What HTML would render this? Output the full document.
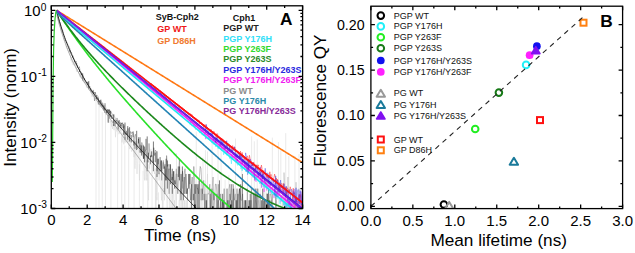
<!DOCTYPE html><html><head><meta charset="utf-8"><style>html,body{margin:0;padding:0;background:#fff;}svg{display:block}text{font-family:"Liberation Sans",sans-serif}</style></head><body>
<svg width="635" height="253" viewBox="0 0 635 253">
<defs><clipPath id="ca"><rect x="51.3" y="5.8" width="251.3" height="202.7"/></clipPath>
<clipPath id="cb"><rect x="370.9" y="6.2" width="251.7" height="202.4"/></clipPath></defs>
<g clip-path="url(#ca)" fill="none" stroke-linejoin="round">
<path d="M57 16.11 L57.5 17.27 L58 18.69 L58.5 21.83 L59 24.4 L59.5 24.95 L60 26.14 L60.5 27.2 L61 31.25 L61.5 33.01 L62 32.43 L62.5 34.24 L63 34.59 L63.5 36.69 L64 39.47 L64.5 41.15 L65 39.1 L65.5 44.04 L66 46.13 L66.5 48.03 L67 47.59 L67.5 48.83 L68 50.83 L68.5 51.67 L69 52.38 L69.5 52.93 L70 53.47 L70.5 56.01 L71 60.68 L71.5 57.43 L72 62.32 L72.5 61.1 L73 64.66 L73.5 62.89 L74 65.42 L74.5 64.51 L75 60.09 L75.5 66.98 L76 66.18 L76.5 71.63 L77 70.32 L77.5 69.25 L78 71.73 L78.5 71.62 L79 73.07 L79.5 76.53 L80 73.76 L80.5 77.82 L81 72.6 L81.5 78.77 L82 76.74 L82.5 79.16 L83 77.69 L83.5 82.33 L84 79.1 L84.5 82.66 L85 79.96 L85.5 82.26 L86 84.27 L86.5 87.63 L87 84.1 L87.5 85.62 L88 83.32 L88.5 89.51 L89 87.55 L89.5 88.4 L90 89.76 L90.5 90.69 L91 91.49 L91.5 94.69 L92 96.87 L92.5 95.49 L93 93.05 L93.5 91.04 L94 93.25 L94.5 93.69 L95 95.2 L95.5 96.12 L96 98.49 L96.5 97.22 L97 94.79 L97.5 102.41 L98 104.55 L98.5 96.12 L99 104.64 L99.5 100.81 L100 107.33 L100.5 100.37 L101 101.72 L101.5 106.77 L102 104.64 L102.5 105.16 L103 106.77 L103.5 110.92 L104 106.22 L104.5 105.69 L105 112.22 L105.5 113.59 L106 115.02 L106.5 113.59 L107 109.67 L107.5 110.29 L108 121.61 L108.5 115.02 L109 116.53 L109.5 114.3 L110 122.55 L110.5 121.61 L111 120.7 L111.5 126.66 L112 119.82 L112.5 128.95 L113 121.61 L113.5 122.55 L114 130.17 L114.5 118.96 L115 126.66 L115.5 137.21 L116 127.78 L116.5 128.95 L117 131.45 L117.5 124.53 L118 120.7 L118.5 119.82 L119 134.19 L119.5 131.45 L120 122.55 L120.5 131.45 L121 127.78 L121.5 134.19 L122 142.44 L122.5 138.85 L123 132.79 L123.5 142.44 L124 144.42 L124.5 137.21 L125 142.44 L125.5 137.21 L126 142.44 L126.5 137.21 L127 132.79 L127.5 142.44 L128 135.66 L128.5 142.44 L129 137.21 L129.5 148.84 L130 148.84 L130.5 146.55 L131 138.85 L131.5 151.34 L132 151.34 L132.5 148.84 L133 148.84 L133.5 140.59 L134 157.1 L134.5 140.59 L135 168.73 L135.5 154.07 L136 148.84 L136.5 160.48 L137 173.96 L137.5 164.31 L138 148.84 L138.5 148.84 L139 154.07 L139.5 180.37 L140 160.48 L140.5 144.42 L141 144.42 L141.5 154.07 L142 154.07 L142.5 148.84 L143 157.1 L143.5 144.42 L144 168.73 L144.5 180.37 L145 157.1 L145.5 148.84 L146 180.37 L146.5 160.48 L147 180.37 L147.5 160.48 L148 180.37 L148.5 200.26 L149 164.31 L149.5 168.73 L150 160.48 L150.5 160.48 L151 148.84 L151.5 164.31 L152 173.96 L152.5 168.73 L153 160.48 L153.5 164.31 L154 164.31 L154.5 173.96 L155 168.73 L155.5 168.73 L156 216 L156.5 173.96 L157 200.26 L157.5 173.96 L158 164.31 L158.5 164.31 L159 180.37 L159.5 173.96 L160 173.96 L160.5 188.62 L161 188.62 L161.5 200.26 L162 180.37 L162.5 216 L163 188.62 L163.5 188.62 L164 188.62 L164.5 200.26 L165 188.62 L165.5 168.73 L166 180.37 L166.5 168.73 L167 216 L167.5 216 L168 188.62 L168.5 168.73 L169 173.96 L169.5 180.37 L170 188.62 L170.5 216 L171 216 L171.5 216 L172 173.96 L172.5 216 L173 188.62 L173.5 188.62 L174 216 L174.5 200.26 L175 216 L175.5 180.37 L176 188.62 L176.5 216 L177 216 L177.5 216 L178 216 L178.5 216 L179 200.26 L179.5 200.26 L180 200.26 L180.5 188.62 L181 216 L181.5 200.26 L182 188.62 L182.5 216 L183 180.37 L183.5 188.62 L184 216 L184.5 200.26 L185 216 L185.5 216 L186 200.26 L186.5 216 L187 200.26 L187.5 200.26 L188 216 L188.5 216 L189 216 L189.5 216 L190 216 L190.5 188.62 L191 200.26 L191.5 216 L192 216 L192.5 216 L193 216 L193.5 200.26 L194 216 L194.5 188.62 L195 216 L195.5 216 L196 216 L196.5 216 L197 216 L197.5 216 L198 216 L198.5 216 L199 216 L199.5 216 L200 216 L200.5 216 L201 216 L201.5 200.26 L202 200.26 L202.5 216 L203 216 L203.5 216 L204 216 L204.5 216 L205 180.37 L205.5 216 L206 216 L206.5 188.62 L207 188.62 L207.5 173.96 L208 216 L208.5 216 L209 216 L209.5 216 L210 216 L210.5 216 L211 188.62 L211.5 216 L212 216 L212.5 216 L213 216 L213.5 216 L214 216 L214.5 216 L215 216 L215.5 216 L216 200.26 L216.5 216 L217 216 L217.5 200.26 L218 216 L218.5 216 L219 216 L219.5 216 L220 216 L220.5 200.26 L221 216 L221.5 216 L222 216 L222.5 216 L223 216 L223.5 200.26 L224 216 L224.5 216 L225 216 L225.5 216 L226 216 L226.5 216 L227 216 L227.5 216 L228 216 L228.5 216 L229 216 L229.5 216 L230 200.26 L230.5 216 L231 200.26 L231.5 216 L232 188.62 L232.5 200.26 L233 216 L233.5 216 L234 216 L234.5 216 L235 216 L235.5 216 L236 200.26 L236.5 216 L237 216 L237.5 216 L238 216 L238.5 216 L239 216 L239.5 216 L240 216 L240.5 216 L241 216 L241.5 216 L242 216 L242.5 216 L243 216 L243.5 216 L244 216 L244.5 216 L245 216 L245.5 216 L246 216 L246.5 200.26 L247 216 L247.5 216 L248 216 L248.5 216 L249 216 L249.5 216 L250 216 L250.5 216 L251 200.26 L251.5 216 L252 216 L252.5 216 L253 216 L253.5 216 L254 188.62 L254.5 188.62 L255 216 L255.5 200.26 L256 216 L256.5 216 L257 216 L257.5 200.26 L258 216 L258.5 200.26 L259 216 L259.5 216 L260 216 L260.5 216 L261 216 L261.5 216 L262 216 L262.5 200.26 L263 216 L263.5 216 L264 188.62 L264.5 216 L265 216 L265.5 216 L266 216 L266.5 216 L267 200.26 L267.5 216 L268 216 L268.5 216 L269 216 L269.5 200.26 L270 216 L270.5 216 L271 216 L271.5 200.26 L272 216 L272.5 216 L273 216 L273.5 216 L274 216 L274.5 216 L275 216 L275.5 216 L276 216 L276.5 200.26 L277 216 L277.5 216 L278 216 L278.5 216 L279 216 L279.5 216 L280 216 L280.5 216 L281 216 L281.5 216 L282 216 L282.5 200.26 L283 216 L283.5 216 L284 216 L284.5 216 L285 216 L285.5 216 L286 188.62 L286.5 216 L287 216 L287.5 200.26 L288 216 L288.5 216 L289 216 L289.5 200.26 L290 216 L290.5 216 L291 216 L291.5 216 L292 216 L292.5 216 L293 216 L293.5 216 L294 200.26 L294.5 216 L295 216 L295.5 216 L296 216 L296.5 216 L297 216 L297.5 216 L298 216 L298.5 216 L299 216 L299.5 216 L300 216 L300.5 216 L301 200.26 L301.5 216 L302 200.26 L302.5 188.62 L303 216" stroke="#cfcfcf" stroke-width="0.4"/>
<path d="M57 13.04 L57.8 15.18 L58.6 18.42 L59.4 21.39 L60.2 23.18 L61 26.39 L61.8 29.17 L62.6 30.08 L63.4 34.17 L64.2 37.12 L65 39.48 L65.8 40.89 L66.6 41.91 L67.4 43.74 L68.2 45.41 L69 46.61 L69.8 48.55 L70.6 51.42 L71.4 52.45 L72.2 54.9 L73 58.04 L73.8 58.04 L74.6 60.6 L75.4 62.56 L76.2 61.32 L77 64.39 L77.8 67.66 L78.6 68.58 L79.4 66.66 L80.2 71.79 L81 71.71 L81.8 73.27 L82.6 74.81 L83.4 76.03 L84.2 79.21 L85 80.52 L85.8 81.29 L86.6 82.96 L87.4 82.07 L88.2 81.97 L89 87.87 L89.8 86.19 L90.6 90.58 L91.4 91.17 L92.2 91.36 L93 91.76 L93.8 94.14 L94.6 100.97 L95.4 92.33 L96.2 97.15 L97 99.17 L97.8 97.03 L98.6 101.28 L99.4 104.71 L100.2 100.58 L101 101.78 L101.8 106.22 L102.6 102.69 L103.4 104.88 L104.2 110.34 L105 103.22 L105.8 108.09 L106.6 113.46 L107.4 109.45 L108.2 111.36 L109 109.78 L109.8 118.32 L110.6 111.35 L111.4 112.52 L112.2 114.15 L113 115.29 L113.8 113.98 L114.6 116.68 L115.4 119.55 L116.2 124.1 L117 117.93 L117.8 122.08 L118.6 123.03 L119.4 120.25 L120.2 127.21 L121 122.55 L121.8 124.02 L122.6 122.55 L123.4 128.36 L124.2 125.57 L125 134.19 L125.8 133.48 L126.6 134.91 L127.4 135.66 L128.2 128.36 L129 137.21 L129.8 138.02 L130.6 131.45 L131.4 133.48 L132.2 132.11 L133 132.79 L133.8 145.46 L134.6 136.42 L135.4 134.19 L136.2 142.44 L137 147.67 L137.8 148.84 L138.6 137.21 L139.4 146.55 L140.2 145.46 L141 152.67 L141.8 142.44 L142.6 146.55 L143.4 158.74 L144.2 155.55 L145 151.34 L145.8 150.06 L146.6 155.55 L147.4 158.74 L148.2 162.33 L149 143.41 L149.8 154.07 L150.6 157.1 L151.4 155.55 L152.2 155.55 L153 162.33 L153.8 147.67 L154.6 155.55 L155.4 150.06 L156.2 151.34 L157 171.23 L157.8 158.74 L158.6 173.96 L159.4 173.96 L160.2 166.44 L161 160.48 L161.8 180.37 L162.6 164.31 L163.4 160.48 L164.2 168.73 L165 164.31 L165.8 180.37 L166.6 155.55 L167.4 166.44 L168.2 164.31 L169 180.37 L169.8 164.31 L170.6 168.73 L171.4 180.37 L172.2 176.99 L173 180.37 L173.8 171.23 L174.6 180.37 L175.4 184.2 L176.2 173.96 L177 173.96 L177.8 193.85 L178.6 173.96 L179.4 158.74 L180.2 180.37 L181 200.26 L181.8 176.99 L182.6 171.23 L183.4 200.26 L184.2 173.96 L185 168.73 L185.8 180.37 L186.6 193.85 L187.4 188.62 L188.2 188.62 L189 173.96 L189.8 188.62 L190.6 200.26 L191.4 184.2 L192.2 176.99 L193 200.26 L193.8 166.44 L194.6 180.37 L195.4 208.51 L196.2 184.2 L197 188.62 L197.8 188.62 L198.6 193.85 L199.4 176.99 L200.2 166.44 L201 168.73 L201.8 184.2 L202.6 193.85 L203.4 180.37 L204.2 193.85 L205 216 L205.8 193.85 L206.6 216 L207.4 193.85 L208.2 193.85 L209 193.85 L209.8 184.2 L210.6 216 L211.4 200.26 L212.2 188.62 L213 176.99 L213.8 208.51 L214.6 200.26 L215.4 184.2 L216.2 184.2 L217 193.85 L217.8 208.51 L218.6 200.26 L219.4 216 L220.2 208.51 L221 200.26 L221.8 216 L222.6 200.26 L223.4 208.51 L224.2 188.62 L225 216 L225.8 208.51 L226.6 216 L227.4 200.26 L228.2 216 L229 188.62 L229.8 184.2 L230.6 200.26 L231.4 184.2 L232.2 216 L233 184.2 L233.8 188.62 L234.6 200.26 L235.4 193.85 L236.2 216 L237 188.62 L237.8 208.51 L238.6 193.85 L239.4 188.62 L240.2 193.85 L241 200.26 L241.8 200.26 L242.6 193.85 L243.4 216 L244.2 208.51 L245 208.51 L245.8 200.26 L246.6 208.51 L247.4 216 L248.2 216 L249 208.51 L249.8 200.26 L250.6 216 L251.4 200.26 L252.2 216 L253 216 L253.8 216 L254.6 208.51 L255.4 188.62 L256.2 200.26 L257 208.51 L257.8 188.62 L258.6 200.26 L259.4 216 L260.2 216 L261 208.51 L261.8 216 L262.6 216 L263.4 208.51 L264.2 200.26 L265 216 L265.8 216 L266.6 193.85 L267.4 193.85 L268.2 216 L269 216 L269.8 193.85 L270.6 193.85 L271.4 200.26 L272.2 208.51 L273 208.51 L273.8 216 L274.6 216 L275.4 216" stroke="#000" stroke-width="0.5" opacity="0.5"/>
<path d="M70 50.28 V52.08 M71.17 52.42 V53.02 M72.91 55.71 V57.57 M74.44 60.02 V61.68 M76.39 63.1 V64.19 M77.61 65.57 V67.37 M79.52 69.3 V71.96 M81.43 72.96 V75.02 M82.67 73.38 V80.46 M84.5 78.47 V80.01 M86.26 82.06 V83.12 M87.35 82.23 V84.69 M88.76 81.08 V88.98 M90.7 88.39 V90.58 M91.91 91.05 V92.58 M93.13 89.9 V93.85 M94.81 92.12 V93.51 M96.75 95.1 V99.4 M98.52 98.42 V104.35 M99.66 100.14 V101.88 M100.89 99.62 V105.2 M102.38 104.4 V107.49 M103.77 105.37 V109.87 M104.94 107.8 V112.87 M106.87 109.65 V112.87 M108.23 109.28 V122.8 M109.54 109.5 V113.24 M110.63 110.7 V116.67 M111.86 114.94 V119.03 M113.53 115.03 V125.98 M114.94 120.76 V126.08 M116.41 120.19 V120.79 M118.17 120.7 V129.56 M119.77 122.55 V124.53 M120.89 124.53 V126.11 M121.96 123.03 V128.36 M123.66 124.02 V134.91 M124.99 122.55 V139.71 M126.32 130.81 V134.91 M127.73 126.11 V139.71 M129.58 127.21 V141.5 M131.21 134.91 V142.44 M133.14 131.45 V137.21 M134.98 141.5 V148.84 M136.68 130.81 V150.06 M138.51 138.85 V143.41 M140.01 137.21 V152.67 M141.66 145.46 V155.55 M143.53 145.46 V158.74 M144.61 146.55 V162.33 M146 138.85 V150.06 M147.19 136.42 V171.23 M148.45 152.67 V158.74 M150.33 155.55 V164.31 M151.7 151.34 V157.1 M153.42 141.5 V171.23 M155.3 152.67 V162.33 M157.01 151.34 V176.99 M158.33 158.74 V164.31 M160.11 157.1 V171.23 M161.54 160.48 V171.23 M163.34 162.33 V168.73 M164.77 166.44 V193.85 M166.12 158.74 V180.37 M167.35 160.48 V188.62 M169.21 168.73 V193.85 M170.52 164.31 V184.2 M172.28 168.73 V193.85 M173.57 171.23 V184.2 M174.65 180.37 V188.62 M176.35 168.73 V188.62 M178.29 166.44 V176.99 M179.49 166.44 V180.37 M181.05 173.96 V193.85 M182.36 166.44 V188.62 M184.23 176.99 V193.85 M186 173.96 V193.85 M187.53 188.62 V200.26 M188.86 173.96 V188.62 M190.04 173.96 V184.2 M191.6 184.2 V216 M193.53 193.85 V200.26 M194.58 184.2 V208.51 M195.7 184.2 V193.85 M196.9 184.2 V208.51 M198.05 184.2 V216 M199.24 180.37 V208.51 M201.02 188.62 V200.26 M202.35 188.62 V200.26 M203.97 193.85 V200.26 M205.14 200.26 V208.51 M206.66 200.26 V208.51 M208.56 188.62 V189.22 M210.12 193.85 V216 M212.04 188.62 V216 M213.97 193.85 V200.26 M216.92 193.85 V216 M218.25 184.2 V208.51 M219.44 180.37 V200.26 M220.76 193.85 V216 M222.65 193.85 V216 M223.96 200.26 V208.51 M225.14 208.51 V216 M227.03 188.62 V216 M228.75 200.26 V216 M229.83 193.85 V216 M231.77 200.26 V208.51 M233.55 188.62 V216 M235.31 200.26 V208.51 M236.71 200.26 V216 M237.93 193.85 V216 M239.57 188.62 V216 M240.7 184.2 V208.51 M242.45 173.96 V208.51 M244.26 200.26 V216 M245.55 200.26 V208.51 M247.36 188.62 V216 M248.95 200.26 V216 M250.25 193.85 V216 M251.44 188.62 V208.51 M253.3 193.85 V216 M254.54 193.85 V208.51 M255.9 193.85 V216 M257.05 188.62 V216 M258.49 208.51 V216 M260.17 193.85 V216 M261.42 200.26 V208.51 M262.69 188.62 V216 M264.07 200.26 V216 M265.72 200.26 V216 M267.32 193.85 V216 M268.48 188.62 V216 M269.95 200.26 V216 M271.16 208.51 V216 M272.21 193.85 V216 M275.86 193.85 V216" stroke="#000" stroke-width="0.7" opacity="0.75"/>
<path d="M276 208.51 L277 208.51 L278 216 L279 216 L280 216 L281 208.51 L282 216 L283 216 L284 172.56 L285 188.62 L286 208.51 L287 216 L288 176.99 L289 208.51 L290 216 L291 216 L292 208.51 L293 216 L294 216 L295 216 L296 182.22 L297 216 L298 208.51 L299 188.62 L300 196.88 L301 196.88 L302 196.88 L303 208.51" stroke="#777" stroke-width="0.45" opacity="0.6"/>
<path d="M96 100 V209 M99 100 V209 M102.24 112.27 V209 M105.5 110.72 V209 M110.92 120.63 V209 M117.61 128.95 V209 M121.72 136.52 V209 M124.8 145.33 V209 M128.67 142.36 V209 M134.09 145.93 V209 M139.39 164.28 V209 M143.08 170.84 V209 M147.73 174.38 V209 M152.07 174.33 V209 M155.42 172.55 V209 M158.44 192.35 V209 M163.11 160.04 V209 M169.61 169.36 V209 M176.49 153.24 V209 M179.57 189.85 V209 M182.38 181.47 V209 M187.35 193.89 V209 M194.07 172.92 V209 M196.26 131.51 V209 M200.63 183.28 V209 M203.03 157.65 V209 M205.46 150.14 V209 M207.49 151.43 V209 M212.11 143.05 V209 M218.04 133.6 V209 M221.1 146.74 V209 M225.12 179.65 V209 M228.89 175.17 V209 M235.5 138.51 V209 M241.82 168.98 V209 M247.56 169.52 V209 M251.6 136.27 V209 M254.32 141.32 V209 M257.21 139.46 V209 M260.24 166.46 V209 M266.1 181.87 V209 M272.33 137.62 V209 M278.44 142.09 V209 M280.8 148.7 V209 M285.73 133.1 V209 M288.81 155.94 V209 M294.92 155.96 V209 M298.99 154.11 V209 M301.46 187.17 V209" stroke="#d4d4d4" stroke-width="0.5"/>
<path d="M190 113.91 L190.6 113.84 L191.2 115.25 L191.8 114.34 L192.4 117.36 L193 117.07 L193.6 117.86 L194.2 118.19 L194.8 118.42 L195.4 118.6 L196 118.32 L196.6 120.97 L197.2 120.89 L197.8 120.79 L198.4 120.1 L199 120.03 L199.6 123.65 L200.2 122.24 L200.8 123.02 L201.4 123.31 L202 123.93 L202.6 125.38 L203.2 124.96 L203.8 127.66 L204.4 124.96 L205 125.45 L205.6 124.65 L206.2 128.63 L206.8 129.07 L207.4 127.92 L208 128.21 L208.6 129.14 L209.2 131.3 L209.8 130.14 L210.4 130.33 L211 129.34 L211.6 131.24 L212.2 131.3 L212.8 133.62 L213.4 131.48 L214 131.18 L214.6 132.9 L215.2 135.3 L215.8 136.94 L216.4 139.27 L217 133.46 L217.6 135.02 L218.2 137.94 L218.8 136.58 L219.4 138.33 L220 137.89 L220.6 140.44 L221.2 139.16 L221.8 138.29 L222.4 138.75 L223 139.89 L223.6 141.02 L224.2 143.36 L224.8 144.65 L225.4 142.81 L226 141.33 L226.6 145.99 L227.2 145.86 L227.8 143.26 L228.4 146.11 L229 145.5 L229.6 147.44 L230.2 150.47 L230.8 148.84 L231.4 149.97 L232 151.61 L232.6 145.54 L233.2 147.81 L233.8 148.49 L234.4 147.13 L235 147.09 L235.6 152.04 L236.2 151.24 L236.8 150.68 L237.4 150.71 L238 152.81 L238.6 152.89 L239.2 152.64 L239.8 157.4 L240.4 151.1 L241 153.26 L241.6 155.11 L242.2 152.47 L242.8 157.4 L243.4 155.31 L244 159.75 L244.6 157.45 L245.2 160.02 L245.8 159.92 L246.4 160.09 L247 156.24 L247.6 156.18 L248.2 158.64 L248.8 163.83 L249.4 155.21 L250 158.05 L250.6 160.24 L251.2 162.9 L251.8 163.35 L252.4 165.96 L253 164.23 L253.6 162.06 L254.2 164.12 L254.8 163.79 L255.4 169.74 L256 168.58 L256.6 164.91 L257.2 164.84 L257.8 166.25 L258.4 164.9 L259 171.7 L259.6 171.82 L260.2 174.58 L260.8 169.89 L261.4 165.06 L262 167.99 L262.6 178.59 L263.2 172.87 L263.8 170.26 L264.4 173.98 L265 173.73 L265.6 173.97 L266.2 177.69 L266.8 175.32 L267.4 177.2 L268 176.67 L268.6 178.35 L269.2 176.79 L269.8 171.77 L270.4 176.32 L271 174.33 L271.6 175.43 L272.2 180.28 L272.8 179.82 L273.4 178.04 L274 177.46 L274.6 174.09 L275.2 176.99 L275.8 183.92 L276.4 178.17 L277 181.63 L277.6 179.26 L278.2 183.47 L278.8 192.12 L279.4 182.6 L280 183.45 L280.6 192.66 L281.2 184.67 L281.8 183.32 L282.4 184.8 L283 194.94 L283.6 183.45 L284.2 187.83 L284.8 189.1 L285.4 188.15 L286 186.77 L286.6 195.63 L287.2 187.68 L287.8 189.1 L288.4 189.1 L289 190.6 L289.6 191.12 L290.2 186.77 L290.8 189.1 L291.4 191.12 L292 193.85 L292.6 199.55 L293.2 188.15 L293.8 193.85 L294.4 192.73 L295 206.66 L295.6 196.88 L296.2 198.86 L296.8 200.98 L297.4 206.66 L298 198.18 L298.6 196.24 L299.2 194.43 L299.8 204.09 L300.4 194.43 L301 203.28 L301.6 207.57 L302.2 203.28 L302.8 200.26" stroke="#ff1212" stroke-width="0.5" opacity="0.85"/>
<path d="M190 121.35 L190.6 123.55 L191.2 121.24 L191.8 120.74 L192.4 121.77 L193 121.85 L193.6 126.15 L194.2 123.46 L194.8 128.04 L195.4 125.64 L196 126.86 L196.6 123.53 L197.2 126.39 L197.8 127.92 L198.4 129 L199 128.62 L199.6 129.93 L200.2 126.83 L200.8 131.02 L201.4 132.42 L202 130.1 L202.6 132.11 L203.2 130.46 L203.8 131.38 L204.4 134.91 L205 132.99 L205.6 139.13 L206.2 134.42 L206.8 134.65 L207.4 133.25 L208 136.63 L208.6 137.46 L209.2 139.66 L209.8 136.68 L210.4 139.22 L211 138.98 L211.6 139.1 L212.2 138.83 L212.8 142.38 L213.4 139.37 L214 141.42 L214.6 144.24 L215.2 143.12 L215.8 141.32 L216.4 143.11 L217 141.77 L217.6 143.89 L218.2 144.44 L218.8 145.33 L219.4 146.93 L220 145.87 L220.6 144.5 L221.2 146.99 L221.8 149.01 L222.4 144.91 L223 146.86 L223.6 147.65 L224.2 149.93 L224.8 146.49 L225.4 149.1 L226 153.57 L226.6 152.21 L227.2 151.39 L227.8 153.03 L228.4 153.45 L229 153.15 L229.6 154.07 L230.2 155.66 L230.8 155.9 L231.4 156.88 L232 154.68 L232.6 157.83 L233.2 153.08 L233.8 153.26 L234.4 157.27 L235 155.24 L235.6 158.64 L236.2 162.3 L236.8 159.69 L237.4 159.29 L238 163.06 L238.6 162.11 L239.2 162.08 L239.8 163.36 L240.4 161.05 L241 166.82 L241.6 164.86 L242.2 160.84 L242.8 165.42 L243.4 163.51 L244 163.88 L244.6 166.74 L245.2 164.44 L245.8 168.06 L246.4 164.75 L247 168.95 L247.6 174.74 L248.2 167.04 L248.8 171.38 L249.4 170.81 L250 165.6 L250.6 172.17 L251.2 169.77 L251.8 175.39 L252.4 173.76 L253 177.44 L253.6 169.73 L254.2 170.66 L254.8 178.2 L255.4 178.09 L256 181.76 L256.6 174.12 L257.2 174.01 L257.8 173.91 L258.4 177.76 L259 177.94 L259.6 175.19 L260.2 179.88 L260.8 177.9 L261.4 182.55 L262 177.21 L262.6 178.14 L263.2 180.61 L263.8 191.84 L264.4 191.68 L265 178.91 L265.6 184.34 L266.2 183.11 L266.8 190.59 L267.4 183.88 L268 188.16 L268.6 189.66 L269.2 187.46 L269.8 182.07 L270.4 192.84 L271 188.85 L271.6 187.01 L272.2 187.68 L272.8 184.2 L273.4 193.28 L274 198.18 L274.6 189.1 L275.2 190.6 L275.8 192.18 L276.4 192.18 L277 192.18 L277.6 190.6 L278.2 196.88 L278.8 195.02 L279.4 192.18 L280 196.24 L280.6 195.02 L281.2 201.73 L281.8 196.24 L282.4 196.24 L283 195.02 L283.6 192.73 L284.2 194.43 L284.8 205.78 L285.4 195.02 L286 197.52 L286.6 207.57 L287.2 202.49 L287.8 196.24 L288.4 196.88 L289 208.51 L289.6 200.98 L290.2 207.57 L290.8 202.49 L291.4 209.48 L292 214.91 L292.6 204.92 L293.2 201.73 L293.8 198.18 L294.4 205.78 L295 211.53 L295.6 213.74 L296.2 211.53 L296.8 213.74 L297.4 200.98 L298 202.49 L298.6 209.48 L299.2 205.78 L299.8 211.53 L300.4 210.49 L301 214.91 L301.6 206.66 L302.2 212.62 L302.8 210.49" stroke="#f422f4" stroke-width="0.5" opacity="0.85"/>
<path d="M190 125.11 L190.6 122.26 L191.2 123.36 L191.8 125.98 L192.4 125.41 L193 124.97 L193.6 125.23 L194.2 125.73 L194.8 126.96 L195.4 129.42 L196 129.19 L196.6 127.91 L197.2 129.73 L197.8 130.28 L198.4 130.13 L199 130.25 L199.6 132.73 L200.2 132.45 L200.8 131.68 L201.4 132.7 L202 134.82 L202.6 133.18 L203.2 135.86 L203.8 134.94 L204.4 135.48 L205 135.51 L205.6 137.4 L206.2 137.96 L206.8 138.31 L207.4 138.75 L208 136.75 L208.6 137.8 L209.2 139.26 L209.8 139.16 L210.4 139.52 L211 139.37 L211.6 142.58 L212.2 141.55 L212.8 143.07 L213.4 144.38 L214 141.59 L214.6 142.37 L215.2 144.92 L215.8 146.85 L216.4 143.03 L217 145.66 L217.6 145.66 L218.2 148.91 L218.8 145.85 L219.4 145.34 L220 148.92 L220.6 149.35 L221.2 149.71 L221.8 150.84 L222.4 148.64 L223 149.72 L223.6 154.78 L224.2 153.03 L224.8 149.25 L225.4 151.26 L226 153.02 L226.6 155.27 L227.2 154.96 L227.8 153.08 L228.4 155.74 L229 154.55 L229.6 158.55 L230.2 156.09 L230.8 157.65 L231.4 163.8 L232 156.46 L232.6 158.18 L233.2 159.95 L233.8 158.38 L234.4 160.93 L235 160.37 L235.6 159.7 L236.2 160.07 L236.8 160.35 L237.4 165.15 L238 165.25 L238.6 160.08 L239.2 160.76 L239.8 163.8 L240.4 162.96 L241 169.1 L241.6 166.25 L242.2 170.87 L242.8 166.64 L243.4 167.54 L244 167.5 L244.6 166.98 L245.2 166.64 L245.8 171.8 L246.4 165.77 L247 166.73 L247.6 174.48 L248.2 172.72 L248.8 170.4 L249.4 171.47 L250 173.19 L250.6 172.47 L251.2 173.52 L251.8 172.38 L252.4 171.09 L253 173.97 L253.6 176.06 L254.2 171.77 L254.8 174.66 L255.4 177.25 L256 180.04 L256.6 176.67 L257.2 180.37 L257.8 179.68 L258.4 181.35 L259 180.86 L259.6 183.69 L260.2 182.6 L260.8 182.83 L261.4 183.5 L262 183.61 L262.6 181.54 L263.2 186.85 L263.8 184.9 L264.4 183.16 L265 188.17 L265.6 181.93 L266.2 185.31 L266.8 188.69 L267.4 188.79 L268 182.37 L268.6 192.34 L269.2 193.17 L269.8 189.7 L270.4 186.83 L271 191.03 L271.6 194.13 L272.2 189.59 L272.8 192.39 L273.4 195.04 L274 192.88 L274.6 194.05 L275.2 197.32 L275.8 193.97 L276.4 192.39 L277 199.36 L277.6 191.51 L278.2 189.72 L278.8 196.4 L279.4 199.9 L280 203.88 L280.6 199.9 L281.2 195.02 L281.8 200.44 L282.4 200.98 L283 197.85 L283.6 205.13 L284.2 200.98 L284.8 209.98 L285.4 202.69 L286 209.24 L286.6 203.88 L287.2 208.51 L287.8 198.35 L288.4 203.88 L289 196.88 L289.6 202.69 L290.2 214.03 L290.8 216 L291.4 210.75 L292 207.11 L292.6 206.43 L293.2 207.11 L293.8 209.98 L294.4 208.51 L295 207.8 L295.6 214.91 L296.2 211.53 L296.8 207.8 L297.4 214.91 L298 207.8 L298.6 210.75 L299.2 216 L299.8 216 L300.4 216 L301 216 L301.6 212.34 L302.2 216 L302.8 216" stroke="#1ee4f4" stroke-width="0.5" opacity="0.85"/>
<path d="M56.5 10.3 L57.25 16.49 L58 19.56 L58.75 22.28 L59.5 24.91 L60.25 27.48 L61 29.98 L61.75 32.43 L62.5 34.81 L63.25 37.12 L64 39.38 L64.75 41.57 L65.5 43.7 L66.25 45.77 L67 47.78 L67.75 49.73 L68.5 51.63 L69.25 53.47 L70 55.26 L70.75 57 L71.5 58.69 L72.25 60.33 L73 61.93 L73.75 63.49 L74.5 65.01 L75.25 66.49 L76 67.94 L76.75 69.35 L77.5 70.73 L78.25 72.09 L79 73.42 L79.75 74.72 L80.5 76 L81.25 77.26 L82 78.5 L82.75 79.72 L83.5 80.92 L84.25 82.11 L85 83.28 L85.75 84.44 L86.5 85.59 L87.25 86.73 L88 87.85 L88.75 88.97 L89.5 90.08 L90.25 91.18 L91 92.27 L91.75 93.36 L92.5 94.44 L93.25 95.52 L94 96.59 L94.75 97.65 L95.5 98.71 L96.25 99.77 L97 100.82 L97.75 101.87 L98.5 102.92 L99.25 103.97 L100 105.01 L100.75 106.05 L101.5 107.09 L102.25 108.12 L103 109.16 L103.75 110.19 L104.5 111.22 L105.25 112.25 L106 113.28 L106.75 114.31 L107.5 115.34 L108.25 116.36 L109 117.39 L109.75 118.41 L110.5 119.44 L111.25 120.46 L112 121.48 L112.75 122.51 L113.5 123.53 L114.25 124.55 L115 125.57 L115.75 126.59 L116.5 127.61 L117.25 128.63 L118 129.65 L118.75 130.67 L119.5 131.69 L120.25 132.71 L121 133.73 L121.75 134.75 L122.5 135.77 L123.25 136.78 L124 137.8 L124.75 138.82 L125.5 139.84 L126.25 140.86 L127 141.88 L127.75 142.89 L128.5 143.91 L129.25 144.93 L130 145.95 L130.75 146.96 L131.5 147.98 L132.25 149 L133 150.02 L133.75 151.03 L134.5 152.05 L135.25 153.07 L136 154.09 L136.75 155.1 L137.5 156.12 L138.25 157.14 L139 158.16 L139.75 159.17 L140.5 160.19 L141.25 161.21 L142 162.23 L142.75 163.24 L143.5 164.26 L144.25 165.28 L145 166.29 L145.75 167.31 L146.5 168.33 L147.25 169.35 L148 170.36 L148.75 171.38 L149.5 172.4 L150.25 173.41 L151 174.43 L151.75 175.45 L152.5 176.47 L153.25 177.48 L154 178.5 L154.75 179.52 L155.5 180.53 L156.25 181.55 L157 182.57 L157.75 183.59 L158.5 184.6 L159.25 185.62 L160 186.64 L160.75 187.65 L161.5 188.67 L162.25 189.69 L163 190.71 L163.75 191.72 L164.5 192.74 L165.25 193.76 L166 194.77 L166.75 195.79 L167.5 196.81 L168.25 197.83 L169 198.84 L169.75 199.86 L170.5 200.88 L171.25 201.89 L172 202.91 L172.75 203.93 L173.5 204.95 L174.25 205.96 L175 206.98 L175.75 208 L176.5 209.01 L177.25 210.03 L178 211.05 L178.75 212.07 L179.5 213.08 L180.25 214.1 L181 215.12" stroke="#a0a0a0" stroke-width="0.9"/>
<path d="M56.5 10.3 L57.25 13.25 L58 16.09 L58.75 18.83 L59.5 21.47 L60.25 24.03 L61 26.49 L61.75 28.87 L62.5 31.18 L63.25 33.41 L64 35.57 L64.75 37.67 L65.5 39.71 L66.25 41.69 L67 43.62 L67.75 45.5 L68.5 47.34 L69.25 49.13 L70 50.89 L70.75 52.6 L71.5 54.29 L72.25 55.93 L73 57.55 L73.75 59.14 L74.5 60.7 L75.25 62.23 L76 63.73 L76.75 65.21 L77.5 66.67 L78.25 68.1 L79 69.52 L79.75 70.91 L80.5 72.28 L81.25 73.63 L82 74.96 L82.75 76.27 L83.5 77.57 L84.25 78.85 L85 80.11 L85.75 81.35 L86.5 82.58 L87.25 83.8 L88 84.99 L88.75 86.18 L89.5 87.35 L90.25 88.5 L91 89.64 L91.75 90.77 L92.5 91.89 L93.25 92.99 L94 94.08 L94.75 95.16 L95.5 96.23 L96.25 97.29 L97 98.33 L97.75 99.37 L98.5 100.4 L99.25 101.41 L100 102.42 L100.75 103.42 L101.5 104.41 L102.25 105.39 L103 106.37 L103.75 107.34 L104.5 108.29 L105.25 109.25 L106 110.19 L106.75 111.13 L107.5 112.06 L108.25 112.99 L109 113.91 L109.75 114.82 L110.5 115.73 L111.25 116.63 L112 117.53 L112.75 118.43 L113.5 119.32 L114.25 120.2 L115 121.08 L115.75 121.96 L116.5 122.83 L117.25 123.7 L118 124.56 L118.75 125.42 L119.5 126.28 L120.25 127.14 L121 127.99 L121.75 128.84 L122.5 129.69 L123.25 130.53 L124 131.37 L124.75 132.21 L125.5 133.05 L126.25 133.88 L127 134.71 L127.75 135.54 L128.5 136.37 L129.25 137.2 L130 138.02 L130.75 138.85 L131.5 139.67 L132.25 140.49 L133 141.31 L133.75 142.12 L134.5 142.94 L135.25 143.76 L136 144.57 L136.75 145.38 L137.5 146.19 L138.25 147 L139 147.81 L139.75 148.62 L140.5 149.43 L141.25 150.23 L142 151.04 L142.75 151.84 L143.5 152.65 L144.25 153.45 L145 154.25 L145.75 155.06 L146.5 155.86 L147.25 156.66 L148 157.46 L148.75 158.26 L149.5 159.06 L150.25 159.86 L151 160.65 L151.75 161.45 L152.5 162.25 L153.25 163.05 L154 163.84 L154.75 164.64 L155.5 165.44 L156.25 166.23 L157 167.03 L157.75 167.82 L158.5 168.62 L159.25 169.41 L160 170.21 L160.75 171 L161.5 171.79 L162.25 172.59 L163 173.38 L163.75 174.17 L164.5 174.97 L165.25 175.76 L166 176.55 L166.75 177.34 L167.5 178.14 L168.25 178.93 L169 179.72 L169.75 180.51 L170.5 181.3 L171.25 182.09 L172 182.89 L172.75 183.68 L173.5 184.47 L174.25 185.26 L175 186.05 L175.75 186.84 L176.5 187.63 L177.25 188.42 L178 189.21 L178.75 190 L179.5 190.79 L180.25 191.58 L181 192.37 L181.75 193.16 L182.5 193.95 L183.25 194.74 L184 195.53 L184.75 196.32 L185.5 197.11 L186.25 197.9 L187 198.69 L187.75 199.48 L188.5 200.27 L189.25 201.06 L190 201.85 L190.75 202.64 L191.5 203.43 L192.25 204.22 L193 205.01 L193.75 205.8 L194.5 206.59 L195.25 207.38 L196 208.17 L196.75 208.96 L197.5 209.75 L198.25 210.54 L199 211.33 L199.75 212.12 L200.5 212.91 L201.25 213.69 L202 214.48 L202.75 215.27" stroke="#222" stroke-width="1.0"/>
<path d="M56.5 10.3 L57.25 10.76 L58 11.23 L58.75 11.69 L59.5 12.16 L60.25 12.62 L61 13.09 L61.75 13.55 L62.5 14.01 L63.25 14.48 L64 14.94 L64.75 15.41 L65.5 15.87 L66.25 16.34 L67 16.8 L67.75 17.26 L68.5 17.73 L69.25 18.19 L70 18.66 L70.75 19.12 L71.5 19.59 L72.25 20.05 L73 20.51 L73.75 20.98 L74.5 21.44 L75.25 21.91 L76 22.37 L76.75 22.83 L77.5 23.3 L78.25 23.76 L79 24.23 L79.75 24.69 L80.5 25.16 L81.25 25.62 L82 26.08 L82.75 26.55 L83.5 27.01 L84.25 27.48 L85 27.94 L85.75 28.41 L86.5 28.87 L87.25 29.33 L88 29.8 L88.75 30.26 L89.5 30.73 L90.25 31.19 L91 31.66 L91.75 32.12 L92.5 32.58 L93.25 33.05 L94 33.51 L94.75 33.98 L95.5 34.44 L96.25 34.91 L97 35.37 L97.75 35.83 L98.5 36.3 L99.25 36.76 L100 37.23 L100.75 37.69 L101.5 38.16 L102.25 38.62 L103 39.08 L103.75 39.55 L104.5 40.01 L105.25 40.48 L106 40.94 L106.75 41.4 L107.5 41.87 L108.25 42.33 L109 42.8 L109.75 43.26 L110.5 43.73 L111.25 44.19 L112 44.65 L112.75 45.12 L113.5 45.58 L114.25 46.05 L115 46.51 L115.75 46.98 L116.5 47.44 L117.25 47.9 L118 48.37 L118.75 48.83 L119.5 49.3 L120.25 49.76 L121 50.23 L121.75 50.69 L122.5 51.15 L123.25 51.62 L124 52.08 L124.75 52.55 L125.5 53.01 L126.25 53.48 L127 53.94 L127.75 54.4 L128.5 54.87 L129.25 55.33 L130 55.8 L130.75 56.26 L131.5 56.72 L132.25 57.19 L133 57.65 L133.75 58.12 L134.5 58.58 L135.25 59.05 L136 59.51 L136.75 59.97 L137.5 60.44 L138.25 60.9 L139 61.37 L139.75 61.83 L140.5 62.3 L141.25 62.76 L142 63.22 L142.75 63.69 L143.5 64.15 L144.25 64.62 L145 65.08 L145.75 65.55 L146.5 66.01 L147.25 66.47 L148 66.94 L148.75 67.4 L149.5 67.87 L150.25 68.33 L151 68.8 L151.75 69.26 L152.5 69.72 L153.25 70.19 L154 70.65 L154.75 71.12 L155.5 71.58 L156.25 72.05 L157 72.51 L157.75 72.97 L158.5 73.44 L159.25 73.9 L160 74.37 L160.75 74.83 L161.5 75.3 L162.25 75.76 L163 76.22 L163.75 76.69 L164.5 77.15 L165.25 77.62 L166 78.08 L166.75 78.54 L167.5 79.01 L168.25 79.47 L169 79.94 L169.75 80.4 L170.5 80.87 L171.25 81.33 L172 81.79 L172.75 82.26 L173.5 82.72 L174.25 83.19 L175 83.65 L175.75 84.12 L176.5 84.58 L177.25 85.04 L178 85.51 L178.75 85.97 L179.5 86.44 L180.25 86.9 L181 87.37 L181.75 87.83 L182.5 88.29 L183.25 88.76 L184 89.22 L184.75 89.69 L185.5 90.15 L186.25 90.62 L187 91.08 L187.75 91.54 L188.5 92.01 L189.25 92.47 L190 92.94 L190.75 93.4 L191.5 93.86 L192.25 94.33 L193 94.79 L193.75 95.26 L194.5 95.72 L195.25 96.19 L196 96.65 L196.75 97.11 L197.5 97.58 L198.25 98.04 L199 98.51 L199.75 98.97 L200.5 99.44 L201.25 99.9 L202 100.36 L202.75 100.83 L203.5 101.29 L204.25 101.76 L205 102.22 L205.75 102.69 L206.5 103.15 L207.25 103.61 L208 104.08 L208.75 104.54 L209.5 105.01 L210.25 105.47 L211 105.94 L211.75 106.4 L212.5 106.86 L213.25 107.33 L214 107.79 L214.75 108.26 L215.5 108.72 L216.25 109.19 L217 109.65 L217.75 110.11 L218.5 110.58 L219.25 111.04 L220 111.51 L220.75 111.97 L221.5 112.44 L222.25 112.9 L223 113.36 L223.75 113.83 L224.5 114.29 L225.25 114.76 L226 115.22 L226.75 115.68 L227.5 116.15 L228.25 116.61 L229 117.08 L229.75 117.54 L230.5 118.01 L231.25 118.47 L232 118.93 L232.75 119.4 L233.5 119.86 L234.25 120.33 L235 120.79 L235.75 121.26 L236.5 121.72 L237.25 122.18 L238 122.65 L238.75 123.11 L239.5 123.58 L240.25 124.04 L241 124.51 L241.75 124.97 L242.5 125.43 L243.25 125.9 L244 126.36 L244.75 126.83 L245.5 127.29 L246.25 127.76 L247 128.22 L247.75 128.68 L248.5 129.15 L249.25 129.61 L250 130.08 L250.75 130.54 L251.5 131 L252.25 131.47 L253 131.93 L253.75 132.4 L254.5 132.86 L255.25 133.33 L256 133.79 L256.75 134.25 L257.5 134.72 L258.25 135.18 L259 135.65 L259.75 136.11 L260.5 136.58 L261.25 137.04 L262 137.5 L262.75 137.97 L263.5 138.43 L264.25 138.9 L265 139.36 L265.75 139.83 L266.5 140.29 L267.25 140.75 L268 141.22 L268.75 141.68 L269.5 142.15 L270.25 142.61 L271 143.08 L271.75 143.54 L272.5 144 L273.25 144.47 L274 144.93 L274.75 145.4 L275.5 145.86 L276.25 146.33 L277 146.79 L277.75 147.25 L278.5 147.72 L279.25 148.18 L280 148.65 L280.75 149.11 L281.5 149.58 L282.25 150.04 L283 150.5 L283.75 150.97 L284.5 151.43 L285.25 151.9 L286 152.36 L286.75 152.82 L287.5 153.29 L288.25 153.75 L289 154.22 L289.75 154.68 L290.5 155.15 L291.25 155.61 L292 156.07 L292.75 156.54 L293.5 157 L294.25 157.47 L295 157.93 L295.75 158.4 L296.5 158.86 L297.25 159.32 L298 159.79 L298.75 160.25 L299.5 160.72 L300.25 161.18 L301 161.65 L301.75 162.11 L302.5 162.57 L303.25 163.04" stroke="#ff7814" stroke-width="1.6"/>
<path d="M56.5 10.3 L57.25 10.89 L58 11.47 L58.75 12.06 L59.5 12.65 L60.25 13.23 L61 13.82 L61.75 14.41 L62.5 14.99 L63.25 15.58 L64 16.16 L64.75 16.75 L65.5 17.34 L66.25 17.92 L67 18.51 L67.75 19.1 L68.5 19.68 L69.25 20.27 L70 20.86 L70.75 21.44 L71.5 22.03 L72.25 22.62 L73 23.2 L73.75 23.79 L74.5 24.38 L75.25 24.96 L76 25.55 L76.75 26.14 L77.5 26.72 L78.25 27.31 L79 27.89 L79.75 28.48 L80.5 29.07 L81.25 29.65 L82 30.24 L82.75 30.83 L83.5 31.41 L84.25 32 L85 32.59 L85.75 33.17 L86.5 33.76 L87.25 34.35 L88 34.93 L88.75 35.52 L89.5 36.11 L90.25 36.69 L91 37.28 L91.75 37.87 L92.5 38.45 L93.25 39.04 L94 39.62 L94.75 40.21 L95.5 40.8 L96.25 41.38 L97 41.97 L97.75 42.56 L98.5 43.14 L99.25 43.73 L100 44.32 L100.75 44.9 L101.5 45.49 L102.25 46.08 L103 46.66 L103.75 47.25 L104.5 47.84 L105.25 48.42 L106 49.01 L106.75 49.6 L107.5 50.18 L108.25 50.77 L109 51.36 L109.75 51.94 L110.5 52.53 L111.25 53.11 L112 53.7 L112.75 54.29 L113.5 54.87 L114.25 55.46 L115 56.05 L115.75 56.63 L116.5 57.22 L117.25 57.81 L118 58.39 L118.75 58.98 L119.5 59.57 L120.25 60.15 L121 60.74 L121.75 61.33 L122.5 61.91 L123.25 62.5 L124 63.09 L124.75 63.67 L125.5 64.26 L126.25 64.84 L127 65.43 L127.75 66.02 L128.5 66.6 L129.25 67.19 L130 67.78 L130.75 68.36 L131.5 68.95 L132.25 69.54 L133 70.12 L133.75 70.71 L134.5 71.3 L135.25 71.88 L136 72.47 L136.75 73.06 L137.5 73.64 L138.25 74.23 L139 74.81 L139.75 75.4 L140.5 75.99 L141.25 76.57 L142 77.16 L142.75 77.75 L143.5 78.33 L144.25 78.92 L145 79.51 L145.75 80.09 L146.5 80.68 L147.25 81.27 L148 81.85 L148.75 82.44 L149.5 83.03 L150.25 83.61 L151 84.2 L151.75 84.79 L152.5 85.37 L153.25 85.96 L154 86.55 L154.75 87.13 L155.5 87.72 L156.25 88.3 L157 88.89 L157.75 89.48 L158.5 90.06 L159.25 90.65 L160 91.24 L160.75 91.82 L161.5 92.41 L162.25 93 L163 93.58 L163.75 94.17 L164.5 94.76 L165.25 95.34 L166 95.93 L166.75 96.52 L167.5 97.1 L168.25 97.69 L169 98.28 L169.75 98.86 L170.5 99.45 L171.25 100.03 L172 100.62 L172.75 101.21 L173.5 101.79 L174.25 102.38 L175 102.97 L175.75 103.55 L176.5 104.14 L177.25 104.73 L178 105.31 L178.75 105.9 L179.5 106.49 L180.25 107.07 L181 107.66 L181.75 108.25 L182.5 108.83 L183.25 109.42 L184 110 L184.75 110.59 L185.5 111.18 L186.25 111.76 L187 112.35 L187.75 112.94 L188.5 113.52 L189.25 114.11 L190 114.7 L190.75 115.28 L191.5 115.87 L192.25 116.46 L193 117.04 L193.75 117.63 L194.5 118.22 L195.25 118.8 L196 119.39 L196.75 119.98 L197.5 120.56 L198.25 121.15 L199 121.73 L199.75 122.32 L200.5 122.91 L201.25 123.49 L202 124.08 L202.75 124.67 L203.5 125.25 L204.25 125.84 L205 126.43 L205.75 127.01 L206.5 127.6 L207.25 128.19 L208 128.77 L208.75 129.36 L209.5 129.95 L210.25 130.53 L211 131.12 L211.75 131.71 L212.5 132.29 L213.25 132.88 L214 133.47 L214.75 134.05 L215.5 134.64 L216.25 135.22 L217 135.81 L217.75 136.4 L218.5 136.98 L219.25 137.57 L220 138.16 L220.75 138.74 L221.5 139.33 L222.25 139.92 L223 140.5 L223.75 141.09 L224.5 141.68 L225.25 142.26 L226 142.85 L226.75 143.44 L227.5 144.02 L228.25 144.61 L229 145.2 L229.75 145.78 L230.5 146.37 L231.25 146.95 L232 147.54 L232.75 148.13 L233.5 148.71 L234.25 149.3 L235 149.89 L235.75 150.47 L236.5 151.06 L237.25 151.65 L238 152.23 L238.75 152.82 L239.5 153.41 L240.25 153.99 L241 154.58 L241.75 155.17 L242.5 155.75 L243.25 156.34 L244 156.93 L244.75 157.51 L245.5 158.1 L246.25 158.68 L247 159.27 L247.75 159.86 L248.5 160.44 L249.25 161.03 L250 161.62 L250.75 162.2 L251.5 162.79 L252.25 163.38 L253 163.96 L253.75 164.55 L254.5 165.14 L255.25 165.72 L256 166.31 L256.75 166.9 L257.5 167.48 L258.25 168.07 L259 168.66 L259.75 169.24 L260.5 169.83 L261.25 170.41 L262 171 L262.75 171.59 L263.5 172.17 L264.25 172.76 L265 173.35 L265.75 173.93 L266.5 174.52 L267.25 175.11 L268 175.69 L268.75 176.28 L269.5 176.87 L270.25 177.45 L271 178.04 L271.75 178.63 L272.5 179.21 L273.25 179.8 L274 180.39 L274.75 180.97 L275.5 181.56 L276.25 182.14 L277 182.73 L277.75 183.32 L278.5 183.9 L279.25 184.49 L280 185.08 L280.75 185.66 L281.5 186.25 L282.25 186.84 L283 187.42 L283.75 188.01 L284.5 188.6 L285.25 189.18 L286 189.77 L286.75 190.36 L287.5 190.94 L288.25 191.53 L289 192.12 L289.75 192.7 L290.5 193.29 L291.25 193.87 L292 194.46 L292.75 195.05 L293.5 195.63 L294.25 196.22 L295 196.81 L295.75 197.39 L296.5 197.98 L297.25 198.57 L298 199.15 L298.75 199.74 L299.5 200.33 L300.25 200.91 L301 201.5 L301.75 202.09 L302.5 202.67 L303.25 203.26" stroke="#ff1212" stroke-width="1.6"/>
<path d="M56.5 10.3 L57.25 10.9 L58 11.51 L58.75 12.11 L59.5 12.72 L60.25 13.32 L61 13.93 L61.75 14.53 L62.5 15.14 L63.25 15.74 L64 16.34 L64.75 16.95 L65.5 17.55 L66.25 18.16 L67 18.76 L67.75 19.37 L68.5 19.97 L69.25 20.58 L70 21.18 L70.75 21.79 L71.5 22.39 L72.25 22.99 L73 23.6 L73.75 24.2 L74.5 24.81 L75.25 25.41 L76 26.02 L76.75 26.62 L77.5 27.23 L78.25 27.83 L79 28.44 L79.75 29.04 L80.5 29.64 L81.25 30.25 L82 30.85 L82.75 31.46 L83.5 32.06 L84.25 32.67 L85 33.27 L85.75 33.88 L86.5 34.48 L87.25 35.08 L88 35.69 L88.75 36.29 L89.5 36.9 L90.25 37.5 L91 38.11 L91.75 38.71 L92.5 39.32 L93.25 39.92 L94 40.53 L94.75 41.13 L95.5 41.73 L96.25 42.34 L97 42.94 L97.75 43.55 L98.5 44.15 L99.25 44.76 L100 45.36 L100.75 45.97 L101.5 46.57 L102.25 47.17 L103 47.78 L103.75 48.38 L104.5 48.99 L105.25 49.59 L106 50.2 L106.75 50.8 L107.5 51.41 L108.25 52.01 L109 52.62 L109.75 53.22 L110.5 53.82 L111.25 54.43 L112 55.03 L112.75 55.64 L113.5 56.24 L114.25 56.85 L115 57.45 L115.75 58.06 L116.5 58.66 L117.25 59.26 L118 59.87 L118.75 60.47 L119.5 61.08 L120.25 61.68 L121 62.29 L121.75 62.89 L122.5 63.5 L123.25 64.1 L124 64.7 L124.75 65.31 L125.5 65.91 L126.25 66.52 L127 67.12 L127.75 67.73 L128.5 68.33 L129.25 68.94 L130 69.54 L130.75 70.15 L131.5 70.75 L132.25 71.35 L133 71.96 L133.75 72.56 L134.5 73.17 L135.25 73.77 L136 74.38 L136.75 74.98 L137.5 75.59 L138.25 76.19 L139 76.8 L139.75 77.4 L140.5 78 L141.25 78.61 L142 79.21 L142.75 79.82 L143.5 80.42 L144.25 81.03 L145 81.63 L145.75 82.24 L146.5 82.84 L147.25 83.44 L148 84.05 L148.75 84.65 L149.5 85.26 L150.25 85.86 L151 86.47 L151.75 87.07 L152.5 87.68 L153.25 88.28 L154 88.89 L154.75 89.49 L155.5 90.09 L156.25 90.7 L157 91.3 L157.75 91.91 L158.5 92.51 L159.25 93.12 L160 93.72 L160.75 94.33 L161.5 94.93 L162.25 95.53 L163 96.14 L163.75 96.74 L164.5 97.35 L165.25 97.95 L166 98.56 L166.75 99.16 L167.5 99.77 L168.25 100.37 L169 100.98 L169.75 101.58 L170.5 102.18 L171.25 102.79 L172 103.39 L172.75 104 L173.5 104.6 L174.25 105.21 L175 105.81 L175.75 106.42 L176.5 107.02 L177.25 107.62 L178 108.23 L178.75 108.83 L179.5 109.44 L180.25 110.04 L181 110.65 L181.75 111.25 L182.5 111.86 L183.25 112.46 L184 113.06 L184.75 113.67 L185.5 114.27 L186.25 114.88 L187 115.48 L187.75 116.09 L188.5 116.69 L189.25 117.3 L190 117.9 L190.75 118.51 L191.5 119.11 L192.25 119.71 L193 120.32 L193.75 120.92 L194.5 121.53 L195.25 122.13 L196 122.74 L196.75 123.34 L197.5 123.95 L198.25 124.55 L199 125.16 L199.75 125.76 L200.5 126.36 L201.25 126.97 L202 127.57 L202.75 128.18 L203.5 128.78 L204.25 129.39 L205 129.99 L205.75 130.6 L206.5 131.2 L207.25 131.8 L208 132.41 L208.75 133.01 L209.5 133.62 L210.25 134.22 L211 134.83 L211.75 135.43 L212.5 136.04 L213.25 136.64 L214 137.25 L214.75 137.85 L215.5 138.45 L216.25 139.06 L217 139.66 L217.75 140.27 L218.5 140.87 L219.25 141.48 L220 142.08 L220.75 142.69 L221.5 143.29 L222.25 143.89 L223 144.5 L223.75 145.1 L224.5 145.71 L225.25 146.31 L226 146.92 L226.75 147.52 L227.5 148.13 L228.25 148.73 L229 149.34 L229.75 149.94 L230.5 150.54 L231.25 151.15 L232 151.75 L232.75 152.36 L233.5 152.96 L234.25 153.57 L235 154.17 L235.75 154.78 L236.5 155.38 L237.25 155.98 L238 156.59 L238.75 157.19 L239.5 157.8 L240.25 158.4 L241 159.01 L241.75 159.61 L242.5 160.22 L243.25 160.82 L244 161.43 L244.75 162.03 L245.5 162.63 L246.25 163.24 L247 163.84 L247.75 164.45 L248.5 165.05 L249.25 165.66 L250 166.26 L250.75 166.87 L251.5 167.47 L252.25 168.07 L253 168.68 L253.75 169.28 L254.5 169.89 L255.25 170.49 L256 171.1 L256.75 171.7 L257.5 172.31 L258.25 172.91 L259 173.52 L259.75 174.12 L260.5 174.72 L261.25 175.33 L262 175.93 L262.75 176.54 L263.5 177.14 L264.25 177.75 L265 178.35 L265.75 178.96 L266.5 179.56 L267.25 180.16 L268 180.77 L268.75 181.37 L269.5 181.98 L270.25 182.58 L271 183.19 L271.75 183.79 L272.5 184.4 L273.25 185 L274 185.61 L274.75 186.21 L275.5 186.81 L276.25 187.42 L277 188.02 L277.75 188.63 L278.5 189.23 L279.25 189.84 L280 190.44 L280.75 191.05 L281.5 191.65 L282.25 192.25 L283 192.86 L283.75 193.46 L284.5 194.07 L285.25 194.67 L286 195.28 L286.75 195.88 L287.5 196.49 L288.25 197.09 L289 197.7 L289.75 198.3 L290.5 198.9 L291.25 199.51 L292 200.11 L292.75 200.72 L293.5 201.32 L294.25 201.93 L295 202.53 L295.75 203.14 L296.5 203.74 L297.25 204.34 L298 204.95 L298.75 205.55 L299.5 206.16 L300.25 206.76 L301 207.37 L301.75 207.97 L302.5 208.58 L303.25 209.18" stroke="#2424e6" stroke-width="1.6"/>
<path d="M56.5 10.3 L57.25 10.92 L58 11.54 L58.75 12.16 L59.5 12.78 L60.25 13.41 L61 14.03 L61.75 14.65 L62.5 15.27 L63.25 15.89 L64 16.51 L64.75 17.13 L65.5 17.75 L66.25 18.37 L67 18.99 L67.75 19.62 L68.5 20.24 L69.25 20.86 L70 21.48 L70.75 22.1 L71.5 22.72 L72.25 23.34 L73 23.96 L73.75 24.58 L74.5 25.2 L75.25 25.82 L76 26.45 L76.75 27.07 L77.5 27.69 L78.25 28.31 L79 28.93 L79.75 29.55 L80.5 30.17 L81.25 30.79 L82 31.41 L82.75 32.03 L83.5 32.66 L84.25 33.28 L85 33.9 L85.75 34.52 L86.5 35.14 L87.25 35.76 L88 36.38 L88.75 37 L89.5 37.62 L90.25 38.25 L91 38.87 L91.75 39.49 L92.5 40.11 L93.25 40.73 L94 41.35 L94.75 41.97 L95.5 42.59 L96.25 43.21 L97 43.83 L97.75 44.45 L98.5 45.08 L99.25 45.7 L100 46.32 L100.75 46.94 L101.5 47.56 L102.25 48.18 L103 48.8 L103.75 49.42 L104.5 50.04 L105.25 50.66 L106 51.29 L106.75 51.91 L107.5 52.53 L108.25 53.15 L109 53.77 L109.75 54.39 L110.5 55.01 L111.25 55.63 L112 56.25 L112.75 56.88 L113.5 57.5 L114.25 58.12 L115 58.74 L115.75 59.36 L116.5 59.98 L117.25 60.6 L118 61.22 L118.75 61.84 L119.5 62.46 L120.25 63.08 L121 63.71 L121.75 64.33 L122.5 64.95 L123.25 65.57 L124 66.19 L124.75 66.81 L125.5 67.43 L126.25 68.05 L127 68.67 L127.75 69.3 L128.5 69.92 L129.25 70.54 L130 71.16 L130.75 71.78 L131.5 72.4 L132.25 73.02 L133 73.64 L133.75 74.26 L134.5 74.88 L135.25 75.5 L136 76.13 L136.75 76.75 L137.5 77.37 L138.25 77.99 L139 78.61 L139.75 79.23 L140.5 79.85 L141.25 80.47 L142 81.09 L142.75 81.71 L143.5 82.34 L144.25 82.96 L145 83.58 L145.75 84.2 L146.5 84.82 L147.25 85.44 L148 86.06 L148.75 86.68 L149.5 87.3 L150.25 87.92 L151 88.55 L151.75 89.17 L152.5 89.79 L153.25 90.41 L154 91.03 L154.75 91.65 L155.5 92.27 L156.25 92.89 L157 93.51 L157.75 94.13 L158.5 94.76 L159.25 95.38 L160 96 L160.75 96.62 L161.5 97.24 L162.25 97.86 L163 98.48 L163.75 99.1 L164.5 99.72 L165.25 100.34 L166 100.97 L166.75 101.59 L167.5 102.21 L168.25 102.83 L169 103.45 L169.75 104.07 L170.5 104.69 L171.25 105.31 L172 105.93 L172.75 106.55 L173.5 107.18 L174.25 107.8 L175 108.42 L175.75 109.04 L176.5 109.66 L177.25 110.28 L178 110.9 L178.75 111.52 L179.5 112.14 L180.25 112.76 L181 113.39 L181.75 114.01 L182.5 114.63 L183.25 115.25 L184 115.87 L184.75 116.49 L185.5 117.11 L186.25 117.73 L187 118.35 L187.75 118.97 L188.5 119.6 L189.25 120.22 L190 120.84 L190.75 121.46 L191.5 122.08 L192.25 122.7 L193 123.32 L193.75 123.94 L194.5 124.56 L195.25 125.18 L196 125.81 L196.75 126.43 L197.5 127.05 L198.25 127.67 L199 128.29 L199.75 128.91 L200.5 129.53 L201.25 130.15 L202 130.77 L202.75 131.4 L203.5 132.02 L204.25 132.64 L205 133.26 L205.75 133.88 L206.5 134.5 L207.25 135.12 L208 135.74 L208.75 136.36 L209.5 136.98 L210.25 137.6 L211 138.23 L211.75 138.85 L212.5 139.47 L213.25 140.09 L214 140.71 L214.75 141.33 L215.5 141.95 L216.25 142.57 L217 143.19 L217.75 143.81 L218.5 144.44 L219.25 145.06 L220 145.68 L220.75 146.3 L221.5 146.92 L222.25 147.54 L223 148.16 L223.75 148.78 L224.5 149.4 L225.25 150.03 L226 150.65 L226.75 151.27 L227.5 151.89 L228.25 152.51 L229 153.13 L229.75 153.75 L230.5 154.37 L231.25 154.99 L232 155.61 L232.75 156.24 L233.5 156.86 L234.25 157.48 L235 158.1 L235.75 158.72 L236.5 159.34 L237.25 159.96 L238 160.58 L238.75 161.2 L239.5 161.82 L240.25 162.44 L241 163.07 L241.75 163.69 L242.5 164.31 L243.25 164.93 L244 165.55 L244.75 166.17 L245.5 166.79 L246.25 167.41 L247 168.03 L247.75 168.66 L248.5 169.28 L249.25 169.9 L250 170.52 L250.75 171.14 L251.5 171.76 L252.25 172.38 L253 173 L253.75 173.62 L254.5 174.24 L255.25 174.87 L256 175.49 L256.75 176.11 L257.5 176.73 L258.25 177.35 L259 177.97 L259.75 178.59 L260.5 179.21 L261.25 179.83 L262 180.45 L262.75 181.07 L263.5 181.7 L264.25 182.32 L265 182.94 L265.75 183.56 L266.5 184.18 L267.25 184.8 L268 185.42 L268.75 186.04 L269.5 186.66 L270.25 187.28 L271 187.91 L271.75 188.53 L272.5 189.15 L273.25 189.77 L274 190.39 L274.75 191.01 L275.5 191.63 L276.25 192.25 L277 192.87 L277.75 193.5 L278.5 194.12 L279.25 194.74 L280 195.36 L280.75 195.98 L281.5 196.6 L282.25 197.22 L283 197.84 L283.75 198.46 L284.5 199.08 L285.25 199.71 L286 200.33 L286.75 200.95 L287.5 201.57 L288.25 202.19 L289 202.81 L289.75 203.43 L290.5 204.05 L291.25 204.67 L292 205.29 L292.75 205.91 L293.5 206.54 L294.25 207.16 L295 207.78 L295.75 208.4 L296.5 209.02 L297.25 209.64 L298 210.26 L298.75 210.88 L299.5 211.5 L300.25 212.12 L301 212.75 L301.75 213.37 L302.5 213.99 L303.25 214.61" stroke="#f422f4" stroke-width="1.6"/>
<path d="M56.5 10.3 L57.25 11.09 L58 11.86 L58.75 12.62 L59.5 13.36 L60.25 14.09 L61 14.82 L61.75 15.53 L62.5 16.23 L63.25 16.93 L64 17.61 L64.75 18.3 L65.5 18.97 L66.25 19.64 L67 20.31 L67.75 20.97 L68.5 21.63 L69.25 22.29 L70 22.94 L70.75 23.59 L71.5 24.24 L72.25 24.88 L73 25.53 L73.75 26.17 L74.5 26.81 L75.25 27.45 L76 28.08 L76.75 28.72 L77.5 29.36 L78.25 29.99 L79 30.62 L79.75 31.26 L80.5 31.89 L81.25 32.52 L82 33.15 L82.75 33.78 L83.5 34.41 L84.25 35.04 L85 35.67 L85.75 36.3 L86.5 36.93 L87.25 37.56 L88 38.18 L88.75 38.81 L89.5 39.44 L90.25 40.07 L91 40.7 L91.75 41.32 L92.5 41.95 L93.25 42.58 L94 43.2 L94.75 43.83 L95.5 44.46 L96.25 45.09 L97 45.71 L97.75 46.34 L98.5 46.97 L99.25 47.59 L100 48.22 L100.75 48.85 L101.5 49.47 L102.25 50.1 L103 50.73 L103.75 51.35 L104.5 51.98 L105.25 52.6 L106 53.23 L106.75 53.86 L107.5 54.48 L108.25 55.11 L109 55.74 L109.75 56.36 L110.5 56.99 L111.25 57.62 L112 58.24 L112.75 58.87 L113.5 59.49 L114.25 60.12 L115 60.75 L115.75 61.37 L116.5 62 L117.25 62.63 L118 63.25 L118.75 63.88 L119.5 64.5 L120.25 65.13 L121 65.76 L121.75 66.38 L122.5 67.01 L123.25 67.64 L124 68.26 L124.75 68.89 L125.5 69.51 L126.25 70.14 L127 70.77 L127.75 71.39 L128.5 72.02 L129.25 72.65 L130 73.27 L130.75 73.9 L131.5 74.52 L132.25 75.15 L133 75.78 L133.75 76.4 L134.5 77.03 L135.25 77.66 L136 78.28 L136.75 78.91 L137.5 79.53 L138.25 80.16 L139 80.79 L139.75 81.41 L140.5 82.04 L141.25 82.67 L142 83.29 L142.75 83.92 L143.5 84.54 L144.25 85.17 L145 85.8 L145.75 86.42 L146.5 87.05 L147.25 87.68 L148 88.3 L148.75 88.93 L149.5 89.55 L150.25 90.18 L151 90.81 L151.75 91.43 L152.5 92.06 L153.25 92.69 L154 93.31 L154.75 93.94 L155.5 94.56 L156.25 95.19 L157 95.82 L157.75 96.44 L158.5 97.07 L159.25 97.7 L160 98.32 L160.75 98.95 L161.5 99.57 L162.25 100.2 L163 100.83 L163.75 101.45 L164.5 102.08 L165.25 102.71 L166 103.33 L166.75 103.96 L167.5 104.58 L168.25 105.21 L169 105.84 L169.75 106.46 L170.5 107.09 L171.25 107.72 L172 108.34 L172.75 108.97 L173.5 109.59 L174.25 110.22 L175 110.85 L175.75 111.47 L176.5 112.1 L177.25 112.73 L178 113.35 L178.75 113.98 L179.5 114.6 L180.25 115.23 L181 115.86 L181.75 116.48 L182.5 117.11 L183.25 117.74 L184 118.36 L184.75 118.99 L185.5 119.61 L186.25 120.24 L187 120.87 L187.75 121.49 L188.5 122.12 L189.25 122.75 L190 123.37 L190.75 124 L191.5 124.62 L192.25 125.25 L193 125.88 L193.75 126.5 L194.5 127.13 L195.25 127.76 L196 128.38 L196.75 129.01 L197.5 129.63 L198.25 130.26 L199 130.89 L199.75 131.51 L200.5 132.14 L201.25 132.77 L202 133.39 L202.75 134.02 L203.5 134.64 L204.25 135.27 L205 135.9 L205.75 136.52 L206.5 137.15 L207.25 137.78 L208 138.4 L208.75 139.03 L209.5 139.65 L210.25 140.28 L211 140.91 L211.75 141.53 L212.5 142.16 L213.25 142.79 L214 143.41 L214.75 144.04 L215.5 144.66 L216.25 145.29 L217 145.92 L217.75 146.54 L218.5 147.17 L219.25 147.8 L220 148.42 L220.75 149.05 L221.5 149.67 L222.25 150.3 L223 150.93 L223.75 151.55 L224.5 152.18 L225.25 152.81 L226 153.43 L226.75 154.06 L227.5 154.68 L228.25 155.31 L229 155.94 L229.75 156.56 L230.5 157.19 L231.25 157.82 L232 158.44 L232.75 159.07 L233.5 159.69 L234.25 160.32 L235 160.95 L235.75 161.57 L236.5 162.2 L237.25 162.83 L238 163.45 L238.75 164.08 L239.5 164.7 L240.25 165.33 L241 165.96 L241.75 166.58 L242.5 167.21 L243.25 167.84 L244 168.46 L244.75 169.09 L245.5 169.71 L246.25 170.34 L247 170.97 L247.75 171.59 L248.5 172.22 L249.25 172.85 L250 173.47 L250.75 174.1 L251.5 174.72 L252.25 175.35 L253 175.98 L253.75 176.6 L254.5 177.23 L255.25 177.86 L256 178.48 L256.75 179.11 L257.5 179.73 L258.25 180.36 L259 180.99 L259.75 181.61 L260.5 182.24 L261.25 182.87 L262 183.49 L262.75 184.12 L263.5 184.74 L264.25 185.37 L265 186 L265.75 186.62 L266.5 187.25 L267.25 187.88 L268 188.5 L268.75 189.13 L269.5 189.75 L270.25 190.38 L271 191.01 L271.75 191.63 L272.5 192.26 L273.25 192.89 L274 193.51 L274.75 194.14 L275.5 194.76 L276.25 195.39 L277 196.02 L277.75 196.64 L278.5 197.27 L279.25 197.9 L280 198.52 L280.75 199.15 L281.5 199.78 L282.25 200.4 L283 201.03 L283.75 201.65 L284.5 202.28 L285.25 202.91 L286 203.53 L286.75 204.16 L287.5 204.78 L288.25 205.41 L289 206.04 L289.75 206.66 L290.5 207.29 L291.25 207.92 L292 208.54 L292.75 209.17 L293.5 209.79 L294.25 210.42 L295 211.05 L295.75 211.67 L296.5 212.3 L297.25 212.93 L298 213.55 L298.75 214.18 L299.5 214.81 L300.25 215.43" stroke="#1ee4f4" stroke-width="1.6"/>
<path d="M56.5 10.3 L57.25 11.45 L58 12.59 L58.75 13.73 L59.5 14.86 L60.25 15.99 L61 17.11 L61.75 18.23 L62.5 19.34 L63.25 20.45 L64 21.56 L64.75 22.66 L65.5 23.76 L66.25 24.85 L67 25.93 L67.75 27.02 L68.5 28.09 L69.25 29.17 L70 30.24 L70.75 31.3 L71.5 32.36 L72.25 33.42 L73 34.47 L73.75 35.52 L74.5 36.57 L75.25 37.61 L76 38.64 L76.75 39.68 L77.5 40.7 L78.25 41.73 L79 42.75 L79.75 43.76 L80.5 44.78 L81.25 45.79 L82 46.79 L82.75 47.79 L83.5 48.79 L84.25 49.79 L85 50.78 L85.75 51.76 L86.5 52.75 L87.25 53.73 L88 54.71 L88.75 55.68 L89.5 56.65 L90.25 57.62 L91 58.58 L91.75 59.54 L92.5 60.5 L93.25 61.46 L94 62.41 L94.75 63.36 L95.5 64.3 L96.25 65.25 L97 66.19 L97.75 67.12 L98.5 68.06 L99.25 68.99 L100 69.92 L100.75 70.85 L101.5 71.77 L102.25 72.69 L103 73.61 L103.75 74.53 L104.5 75.45 L105.25 76.36 L106 77.27 L106.75 78.18 L107.5 79.08 L108.25 79.99 L109 80.89 L109.75 81.79 L110.5 82.68 L111.25 83.58 L112 84.47 L112.75 85.36 L113.5 86.25 L114.25 87.14 L115 88.02 L115.75 88.91 L116.5 89.79 L117.25 90.67 L118 91.55 L118.75 92.42 L119.5 93.3 L120.25 94.17 L121 95.04 L121.75 95.91 L122.5 96.78 L123.25 97.65 L124 98.51 L124.75 99.38 L125.5 100.24 L126.25 101.1 L127 101.96 L127.75 102.82 L128.5 103.68 L129.25 104.53 L130 105.39 L130.75 106.24 L131.5 107.09 L132.25 107.94 L133 108.79 L133.75 109.64 L134.5 110.48 L135.25 111.33 L136 112.17 L136.75 113.02 L137.5 113.86 L138.25 114.7 L139 115.54 L139.75 116.38 L140.5 117.21 L141.25 118.05 L142 118.89 L142.75 119.72 L143.5 120.55 L144.25 121.39 L145 122.22 L145.75 123.05 L146.5 123.88 L147.25 124.7 L148 125.53 L148.75 126.36 L149.5 127.18 L150.25 128.01 L151 128.83 L151.75 129.65 L152.5 130.47 L153.25 131.29 L154 132.11 L154.75 132.93 L155.5 133.75 L156.25 134.56 L157 135.38 L157.75 136.19 L158.5 137 L159.25 137.82 L160 138.63 L160.75 139.44 L161.5 140.25 L162.25 141.05 L163 141.86 L163.75 142.67 L164.5 143.47 L165.25 144.28 L166 145.08 L166.75 145.88 L167.5 146.68 L168.25 147.48 L169 148.28 L169.75 149.08 L170.5 149.88 L171.25 150.67 L172 151.47 L172.75 152.26 L173.5 153.05 L174.25 153.84 L175 154.63 L175.75 155.42 L176.5 156.21 L177.25 156.99 L178 157.78 L178.75 158.56 L179.5 159.34 L180.25 160.12 L181 160.9 L181.75 161.68 L182.5 162.46 L183.25 163.23 L184 164.01 L184.75 164.78 L185.5 165.55 L186.25 166.32 L187 167.09 L187.75 167.85 L188.5 168.62 L189.25 169.38 L190 170.14 L190.75 170.9 L191.5 171.66 L192.25 172.41 L193 173.17 L193.75 173.92 L194.5 174.67 L195.25 175.42 L196 176.16 L196.75 176.91 L197.5 177.65 L198.25 178.39 L199 179.13 L199.75 179.87 L200.5 180.6 L201.25 181.33 L202 182.06 L202.75 182.79 L203.5 183.51 L204.25 184.23 L205 184.95 L205.75 185.67 L206.5 186.38 L207.25 187.09 L208 187.8 L208.75 188.51 L209.5 189.21 L210.25 189.91 L211 190.61 L211.75 191.3 L212.5 191.99 L213.25 192.68 L214 193.36 L214.75 194.05 L215.5 194.72 L216.25 195.4 L217 196.07 L217.75 196.74 L218.5 197.4 L219.25 198.06 L220 198.72 L220.75 199.38 L221.5 200.02 L222.25 200.67 L223 201.31 L223.75 201.95 L224.5 202.59 L225.25 203.22 L226 203.84 L226.75 204.46 L227.5 205.08 L228.25 205.69 L229 206.3 L229.75 206.91 L230.5 207.51 L231.25 208.1 L232 208.69 L232.75 209.28 L233.5 209.86 L234.25 210.44 L235 211.01 L235.75 211.58 L236.5 212.14 L237.25 212.69 L238 213.25 L238.75 213.79 L239.5 214.33 L240.25 214.87 L241 215.4" stroke="#28e028" stroke-width="1.6"/>
<path d="M56.5 10.3 L57.25 11.42 L58 12.53 L58.75 13.64 L59.5 14.73 L60.25 15.82 L61 16.91 L61.75 17.98 L62.5 19.05 L63.25 20.11 L64 21.17 L64.75 22.22 L65.5 23.26 L66.25 24.29 L67 25.32 L67.75 26.34 L68.5 27.35 L69.25 28.36 L70 29.36 L70.75 30.36 L71.5 31.35 L72.25 32.33 L73 33.3 L73.75 34.27 L74.5 35.24 L75.25 36.2 L76 37.15 L76.75 38.1 L77.5 39.04 L78.25 39.97 L79 40.9 L79.75 41.83 L80.5 42.75 L81.25 43.66 L82 44.57 L82.75 45.47 L83.5 46.37 L84.25 47.26 L85 48.15 L85.75 49.04 L86.5 49.92 L87.25 50.79 L88 51.66 L88.75 52.53 L89.5 53.39 L90.25 54.25 L91 55.1 L91.75 55.95 L92.5 56.8 L93.25 57.64 L94 58.48 L94.75 59.31 L95.5 60.14 L96.25 60.97 L97 61.79 L97.75 62.62 L98.5 63.43 L99.25 64.25 L100 65.06 L100.75 65.86 L101.5 66.67 L102.25 67.47 L103 68.27 L103.75 69.06 L104.5 69.86 L105.25 70.65 L106 71.44 L106.75 72.22 L107.5 73 L108.25 73.78 L109 74.56 L109.75 75.34 L110.5 76.11 L111.25 76.88 L112 77.65 L112.75 78.41 L113.5 79.18 L114.25 79.94 L115 80.7 L115.75 81.46 L116.5 82.21 L117.25 82.96 L118 83.72 L118.75 84.47 L119.5 85.21 L120.25 85.96 L121 86.71 L121.75 87.45 L122.5 88.19 L123.25 88.93 L124 89.67 L124.75 90.4 L125.5 91.14 L126.25 91.87 L127 92.6 L127.75 93.33 L128.5 94.06 L129.25 94.79 L130 95.52 L130.75 96.24 L131.5 96.96 L132.25 97.69 L133 98.41 L133.75 99.13 L134.5 99.84 L135.25 100.56 L136 101.28 L136.75 101.99 L137.5 102.7 L138.25 103.41 L139 104.12 L139.75 104.83 L140.5 105.54 L141.25 106.25 L142 106.95 L142.75 107.66 L143.5 108.36 L144.25 109.06 L145 109.76 L145.75 110.46 L146.5 111.16 L147.25 111.86 L148 112.55 L148.75 113.25 L149.5 113.94 L150.25 114.63 L151 115.33 L151.75 116.02 L152.5 116.71 L153.25 117.39 L154 118.08 L154.75 118.77 L155.5 119.45 L156.25 120.13 L157 120.82 L157.75 121.5 L158.5 122.18 L159.25 122.86 L160 123.53 L160.75 124.21 L161.5 124.89 L162.25 125.56 L163 126.23 L163.75 126.9 L164.5 127.57 L165.25 128.24 L166 128.91 L166.75 129.58 L167.5 130.24 L168.25 130.91 L169 131.57 L169.75 132.23 L170.5 132.89 L171.25 133.55 L172 134.21 L172.75 134.86 L173.5 135.52 L174.25 136.17 L175 136.82 L175.75 137.48 L176.5 138.12 L177.25 138.77 L178 139.42 L178.75 140.06 L179.5 140.71 L180.25 141.35 L181 141.99 L181.75 142.63 L182.5 143.27 L183.25 143.9 L184 144.54 L184.75 145.17 L185.5 145.8 L186.25 146.43 L187 147.06 L187.75 147.68 L188.5 148.31 L189.25 148.93 L190 149.55 L190.75 150.17 L191.5 150.79 L192.25 151.4 L193 152.02 L193.75 152.63 L194.5 153.24 L195.25 153.85 L196 154.45 L196.75 155.06 L197.5 155.66 L198.25 156.26 L199 156.86 L199.75 157.46 L200.5 158.05 L201.25 158.64 L202 159.23 L202.75 159.82 L203.5 160.41 L204.25 160.99 L205 161.57 L205.75 162.15 L206.5 162.73 L207.25 163.31 L208 163.88 L208.75 164.45 L209.5 165.02 L210.25 165.59 L211 166.15 L211.75 166.71 L212.5 167.27 L213.25 167.83 L214 168.39 L214.75 168.94 L215.5 169.49 L216.25 170.04 L217 170.58 L217.75 171.12 L218.5 171.66 L219.25 172.2 L220 172.74 L220.75 173.27 L221.5 173.8 L222.25 174.33 L223 174.85 L223.75 175.37 L224.5 175.89 L225.25 176.41 L226 176.92 L226.75 177.43 L227.5 177.94 L228.25 178.45 L229 178.95 L229.75 179.45 L230.5 179.95 L231.25 180.45 L232 180.94 L232.75 181.43 L233.5 181.92 L234.25 182.4 L235 182.88 L235.75 183.36 L236.5 183.83 L237.25 184.31 L238 184.78 L238.75 185.24 L239.5 185.71 L240.25 186.17 L241 186.63 L241.75 187.08 L242.5 187.53 L243.25 187.98 L244 188.43 L244.75 188.87 L245.5 189.31 L246.25 189.75 L247 190.19 L247.75 190.62 L248.5 191.05 L249.25 191.47 L250 191.9 L250.75 192.32 L251.5 192.73 L252.25 193.15 L253 193.56 L253.75 193.97 L254.5 194.38 L255.25 194.78 L256 195.18 L256.75 195.58 L257.5 195.97 L258.25 196.36 L259 196.75 L259.75 197.13 L260.5 197.52 L261.25 197.9 L262 198.27 L262.75 198.65 L263.5 199.02 L264.25 199.39 L265 199.76 L265.75 200.12 L266.5 200.48 L267.25 200.84 L268 201.19 L268.75 201.54 L269.5 201.89 L270.25 202.24 L271 202.58 L271.75 202.93 L272.5 203.26 L273.25 203.6 L274 203.93 L274.75 204.26 L275.5 204.59 L276.25 204.92 L277 205.24 L277.75 205.56 L278.5 205.88 L279.25 206.2 L280 206.51 L280.75 206.82 L281.5 207.13 L282.25 207.44 L283 207.74 L283.75 208.04 L284.5 208.34 L285.25 208.64 L286 208.93 L286.75 209.22 L287.5 209.51 L288.25 209.8 L289 210.09 L289.75 210.37 L290.5 210.65 L291.25 210.93 L292 211.21 L292.75 211.48 L293.5 211.75 L294.25 212.03 L295 212.29 L295.75 212.56 L296.5 212.83 L297.25 213.09 L298 213.35 L298.75 213.61 L299.5 213.86 L300.25 214.12 L301 214.37 L301.75 214.62 L302.5 214.87 L303.25 215.12" stroke="#1c881c" stroke-width="1.6"/>
<path d="M56.5 10.3 L57.25 12.95 L58 13.8 L58.75 14.48 L59.5 15.16 L60.25 15.83 L61 16.51 L61.75 17.18 L62.5 17.86 L63.25 18.53 L64 19.21 L64.75 19.88 L65.5 20.55 L66.25 21.23 L67 21.9 L67.75 22.58 L68.5 23.25 L69.25 23.93 L70 24.6 L70.75 25.27 L71.5 25.95 L72.25 26.62 L73 27.3 L73.75 27.97 L74.5 28.65 L75.25 29.32 L76 29.99 L76.75 30.67 L77.5 31.34 L78.25 32.02 L79 32.69 L79.75 33.37 L80.5 34.04 L81.25 34.71 L82 35.39 L82.75 36.06 L83.5 36.74 L84.25 37.41 L85 38.09 L85.75 38.76 L86.5 39.43 L87.25 40.11 L88 40.78 L88.75 41.46 L89.5 42.13 L90.25 42.81 L91 43.48 L91.75 44.15 L92.5 44.83 L93.25 45.5 L94 46.18 L94.75 46.85 L95.5 47.53 L96.25 48.2 L97 48.88 L97.75 49.55 L98.5 50.22 L99.25 50.9 L100 51.57 L100.75 52.25 L101.5 52.92 L102.25 53.6 L103 54.27 L103.75 54.94 L104.5 55.62 L105.25 56.29 L106 56.97 L106.75 57.64 L107.5 58.32 L108.25 58.99 L109 59.66 L109.75 60.34 L110.5 61.01 L111.25 61.69 L112 62.36 L112.75 63.04 L113.5 63.71 L114.25 64.38 L115 65.06 L115.75 65.73 L116.5 66.41 L117.25 67.08 L118 67.76 L118.75 68.43 L119.5 69.1 L120.25 69.78 L121 70.45 L121.75 71.13 L122.5 71.8 L123.25 72.48 L124 73.15 L124.75 73.82 L125.5 74.5 L126.25 75.17 L127 75.85 L127.75 76.52 L128.5 77.2 L129.25 77.87 L130 78.54 L130.75 79.22 L131.5 79.89 L132.25 80.57 L133 81.24 L133.75 81.92 L134.5 82.59 L135.25 83.26 L136 83.94 L136.75 84.61 L137.5 85.29 L138.25 85.96 L139 86.64 L139.75 87.31 L140.5 87.99 L141.25 88.66 L142 89.33 L142.75 90.01 L143.5 90.68 L144.25 91.36 L145 92.03 L145.75 92.71 L146.5 93.38 L147.25 94.05 L148 94.73 L148.75 95.4 L149.5 96.08 L150.25 96.75 L151 97.43 L151.75 98.1 L152.5 98.77 L153.25 99.45 L154 100.12 L154.75 100.8 L155.5 101.47 L156.25 102.15 L157 102.82 L157.75 103.49 L158.5 104.17 L159.25 104.84 L160 105.52 L160.75 106.19 L161.5 106.87 L162.25 107.54 L163 108.21 L163.75 108.89 L164.5 109.56 L165.25 110.24 L166 110.91 L166.75 111.59 L167.5 112.26 L168.25 112.93 L169 113.61 L169.75 114.28 L170.5 114.96 L171.25 115.63 L172 116.31 L172.75 116.98 L173.5 117.65 L174.25 118.33 L175 119 L175.75 119.68 L176.5 120.35 L177.25 121.03 L178 121.7 L178.75 122.37 L179.5 123.05 L180.25 123.72 L181 124.4 L181.75 125.07 L182.5 125.75 L183.25 126.42 L184 127.1 L184.75 127.77 L185.5 128.44 L186.25 129.12 L187 129.79 L187.75 130.47 L188.5 131.14 L189.25 131.82 L190 132.49 L190.75 133.16 L191.5 133.84 L192.25 134.51 L193 135.19 L193.75 135.86 L194.5 136.54 L195.25 137.21 L196 137.88 L196.75 138.56 L197.5 139.23 L198.25 139.91 L199 140.58 L199.75 141.26 L200.5 141.93 L201.25 142.6 L202 143.28 L202.75 143.95 L203.5 144.63 L204.25 145.3 L205 145.98 L205.75 146.65 L206.5 147.32 L207.25 148 L208 148.67 L208.75 149.35 L209.5 150.02 L210.25 150.7 L211 151.37 L211.75 152.04 L212.5 152.72 L213.25 153.39 L214 154.07 L214.75 154.74 L215.5 155.42 L216.25 156.09 L217 156.76 L217.75 157.44 L218.5 158.11 L219.25 158.79 L220 159.46 L220.75 160.14 L221.5 160.81 L222.25 161.48 L223 162.16 L223.75 162.83 L224.5 163.51 L225.25 164.18 L226 164.86 L226.75 165.53 L227.5 166.2 L228.25 166.88 L229 167.55 L229.75 168.23 L230.5 168.9 L231.25 169.58 L232 170.25 L232.75 170.93 L233.5 171.6 L234.25 172.27 L235 172.95 L235.75 173.62 L236.5 174.3 L237.25 174.97 L238 175.65 L238.75 176.32 L239.5 176.99 L240.25 177.67 L241 178.34 L241.75 179.02 L242.5 179.69 L243.25 180.37 L244 181.04 L244.75 181.71 L245.5 182.39 L246.25 183.06 L247 183.74 L247.75 184.41 L248.5 185.09 L249.25 185.76 L250 186.43 L250.75 187.11 L251.5 187.78 L252.25 188.46 L253 189.13 L253.75 189.81 L254.5 190.48 L255.25 191.15 L256 191.83 L256.75 192.5 L257.5 193.18 L258.25 193.85 L259 194.53 L259.75 195.2 L260.5 195.87 L261.25 196.55 L262 197.22 L262.75 197.9 L263.5 198.57 L264.25 199.25 L265 199.92 L265.75 200.59 L266.5 201.27 L267.25 201.94 L268 202.62 L268.75 203.29 L269.5 203.97 L270.25 204.64 L271 205.31 L271.75 205.99 L272.5 206.66 L273.25 207.34 L274 208.01 L274.75 208.69 L275.5 209.36 L276.25 210.04 L277 210.71 L277.75 211.38 L278.5 212.06 L279.25 212.73 L280 213.41 L280.75 214.08 L281.5 214.76 L282.25 215.43" stroke="#2484b4" stroke-width="1.6"/>
<path d="M56.5 10.3 L57.25 10.91 L58 11.52 L58.75 12.12 L59.5 12.73 L60.25 13.34 L61 13.95 L61.75 14.56 L62.5 15.17 L63.25 15.77 L64 16.38 L64.75 16.99 L65.5 17.6 L66.25 18.21 L67 18.82 L67.75 19.42 L68.5 20.03 L69.25 20.64 L70 21.25 L70.75 21.86 L71.5 22.47 L72.25 23.07 L73 23.68 L73.75 24.29 L74.5 24.9 L75.25 25.51 L76 26.11 L76.75 26.72 L77.5 27.33 L78.25 27.94 L79 28.55 L79.75 29.16 L80.5 29.76 L81.25 30.37 L82 30.98 L82.75 31.59 L83.5 32.2 L84.25 32.81 L85 33.41 L85.75 34.02 L86.5 34.63 L87.25 35.24 L88 35.85 L88.75 36.45 L89.5 37.06 L90.25 37.67 L91 38.28 L91.75 38.89 L92.5 39.5 L93.25 40.1 L94 40.71 L94.75 41.32 L95.5 41.93 L96.25 42.54 L97 43.15 L97.75 43.75 L98.5 44.36 L99.25 44.97 L100 45.58 L100.75 46.19 L101.5 46.8 L102.25 47.4 L103 48.01 L103.75 48.62 L104.5 49.23 L105.25 49.84 L106 50.44 L106.75 51.05 L107.5 51.66 L108.25 52.27 L109 52.88 L109.75 53.49 L110.5 54.09 L111.25 54.7 L112 55.31 L112.75 55.92 L113.5 56.53 L114.25 57.14 L115 57.74 L115.75 58.35 L116.5 58.96 L117.25 59.57 L118 60.18 L118.75 60.78 L119.5 61.39 L120.25 62 L121 62.61 L121.75 63.22 L122.5 63.83 L123.25 64.43 L124 65.04 L124.75 65.65 L125.5 66.26 L126.25 66.87 L127 67.48 L127.75 68.08 L128.5 68.69 L129.25 69.3 L130 69.91 L130.75 70.52 L131.5 71.12 L132.25 71.73 L133 72.34 L133.75 72.95 L134.5 73.56 L135.25 74.17 L136 74.77 L136.75 75.38 L137.5 75.99 L138.25 76.6 L139 77.21 L139.75 77.82 L140.5 78.42 L141.25 79.03 L142 79.64 L142.75 80.25 L143.5 80.86 L144.25 81.47 L145 82.07 L145.75 82.68 L146.5 83.29 L147.25 83.9 L148 84.51 L148.75 85.11 L149.5 85.72 L150.25 86.33 L151 86.94 L151.75 87.55 L152.5 88.16 L153.25 88.76 L154 89.37 L154.75 89.98 L155.5 90.59 L156.25 91.2 L157 91.81 L157.75 92.41 L158.5 93.02 L159.25 93.63 L160 94.24 L160.75 94.85 L161.5 95.45 L162.25 96.06 L163 96.67 L163.75 97.28 L164.5 97.89 L165.25 98.5 L166 99.1 L166.75 99.71 L167.5 100.32 L168.25 100.93 L169 101.54 L169.75 102.15 L170.5 102.75 L171.25 103.36 L172 103.97 L172.75 104.58 L173.5 105.19 L174.25 105.8 L175 106.4 L175.75 107.01 L176.5 107.62 L177.25 108.23 L178 108.84 L178.75 109.44 L179.5 110.05 L180.25 110.66 L181 111.27 L181.75 111.88 L182.5 112.49 L183.25 113.09 L184 113.7 L184.75 114.31 L185.5 114.92 L186.25 115.53 L187 116.14 L187.75 116.74 L188.5 117.35 L189.25 117.96 L190 118.57 L190.75 119.18 L191.5 119.79 L192.25 120.39 L193 121 L193.75 121.61 L194.5 122.22 L195.25 122.83 L196 123.43 L196.75 124.04 L197.5 124.65 L198.25 125.26 L199 125.87 L199.75 126.48 L200.5 127.08 L201.25 127.69 L202 128.3 L202.75 128.91 L203.5 129.52 L204.25 130.13 L205 130.73 L205.75 131.34 L206.5 131.95 L207.25 132.56 L208 133.17 L208.75 133.77 L209.5 134.38 L210.25 134.99 L211 135.6 L211.75 136.21 L212.5 136.82 L213.25 137.42 L214 138.03 L214.75 138.64 L215.5 139.25 L216.25 139.86 L217 140.47 L217.75 141.07 L218.5 141.68 L219.25 142.29 L220 142.9 L220.75 143.51 L221.5 144.12 L222.25 144.72 L223 145.33 L223.75 145.94 L224.5 146.55 L225.25 147.16 L226 147.76 L226.75 148.37 L227.5 148.98 L228.25 149.59 L229 150.2 L229.75 150.81 L230.5 151.41 L231.25 152.02 L232 152.63 L232.75 153.24 L233.5 153.85 L234.25 154.46 L235 155.06 L235.75 155.67 L236.5 156.28 L237.25 156.89 L238 157.5 L238.75 158.1 L239.5 158.71 L240.25 159.32 L241 159.93 L241.75 160.54 L242.5 161.15 L243.25 161.75 L244 162.36 L244.75 162.97 L245.5 163.58 L246.25 164.19 L247 164.8 L247.75 165.4 L248.5 166.01 L249.25 166.62 L250 167.23 L250.75 167.84 L251.5 168.45 L252.25 169.05 L253 169.66 L253.75 170.27 L254.5 170.88 L255.25 171.49 L256 172.09 L256.75 172.7 L257.5 173.31 L258.25 173.92 L259 174.53 L259.75 175.14 L260.5 175.74 L261.25 176.35 L262 176.96 L262.75 177.57 L263.5 178.18 L264.25 178.79 L265 179.39 L265.75 180 L266.5 180.61 L267.25 181.22 L268 181.83 L268.75 182.43 L269.5 183.04 L270.25 183.65 L271 184.26 L271.75 184.87 L272.5 185.48 L273.25 186.08 L274 186.69 L274.75 187.3 L275.5 187.91 L276.25 188.52 L277 189.13 L277.75 189.73 L278.5 190.34 L279.25 190.95 L280 191.56 L280.75 192.17 L281.5 192.78 L282.25 193.38 L283 193.99 L283.75 194.6 L284.5 195.21 L285.25 195.82 L286 196.42 L286.75 197.03 L287.5 197.64 L288.25 198.25 L289 198.86 L289.75 199.47 L290.5 200.07 L291.25 200.68 L292 201.29 L292.75 201.9 L293.5 202.51 L294.25 203.12 L295 203.72 L295.75 204.33 L296.5 204.94 L297.25 205.55 L298 206.16 L298.75 206.76 L299.5 207.37 L300.25 207.98 L301 208.59 L301.75 209.2 L302.5 209.81 L303.25 210.41" stroke="#8418e0" stroke-width="1.6"/>
<path d="M205 126.64 L205.7 133.07 L206.4 130.89 L207.1 132.56 L207.8 134.35 L208.5 134.31 L209.2 134.77 L209.9 134.5 L210.6 134.1 L211.3 133.45 L212 135.58 L212.7 134.4 L213.4 136.24 L214.1 137.52 L214.8 138.77 L215.5 141.01 L216.2 143.05 L216.9 140.17 L217.6 140.93 L218.3 140.42 L219 140.95 L219.7 145.22 L220.4 144.47 L221.1 146.05 L221.8 141.7 L222.5 144.76 L223.2 144.76 L223.9 147.84 L224.6 149.4 L225.3 148.18 L226 147.54 L226.7 146.73 L227.4 152.47 L228.1 148.14 L228.8 151.79 L229.5 151.46 L230.2 151.5 L230.9 152.34 L231.6 150.55 L232.3 150.05 L233 151.95 L233.7 154.92 L234.4 152.83 L235.1 153.49 L235.8 152.76 L236.5 154.87 L237.2 161.2 L237.9 159 L238.6 158.47 L239.3 155.24 L240 158.79 L240.7 156.33 L241.4 158.62 L242.1 163.91 L242.8 160.44 L243.5 159.46 L244.2 160.44 L244.9 167.37 L245.6 161.45 L246.3 165.29 L247 171.75 L247.7 166.36 L248.4 172.42 L249.1 170.15 L249.8 161.56 L250.5 159.22 L251.2 163.71 L251.9 166.23 L252.6 162.23 L253.3 167.6 L254 173.09 L254.7 180.52 L255.4 167.27 L256.1 168.29 L256.8 170.58 L257.5 167.42 L258.2 169.64 L258.9 170.58 L259.6 170.58 L260.3 166.99 L261 182.22 L261.7 187.74 L262.4 176.39 L263.1 173.08 L263.8 176.39 L264.5 176.39 L265.2 178.84 L265.9 183.69 L266.6 182.94 L267.3 174.69 L268 183.69 L268.7 183.69 L269.4 182.94 L270.1 184.46 L270.8 186.05 L271.5 182.22 L272.2 182.22 L272.9 182.22 L273.6 180.82 L274.3 185.24 L275 187.74 L275.7 180.14 L276.4 195.7 L277.1 196.88 L277.8 184.46 L278.5 189.53 L279.2 192.45 L279.9 185.24 L280.6 191.45 L281.3 190.47 L282 188.62 L282.7 194.58 L283.4 189.53 L284.1 195.7 L284.8 189.53 L285.5 191.45 L286.2 193.5 L286.9 194.58 L287.6 200.71 L288.3 191.45 L289 205.13 L289.7 200.71 L290.4 200.71 L291.1 210.36 L291.8 200.71 L292.5 199.37 L293.2 205.13 L293.9 189.53 L294.6 189.53 L295.3 198.1 L296 206.77 L296.7 198.1 L297.4 210.36 L298.1 205.13 L298.8 212.34 L299.5 194.58 L300.2 216 L300.9 191.45 L301.6 195.7 L302.3 216 L303 196.88" stroke="#8418e0" stroke-width="0.5" opacity="0.75"/>
<path d="M205 128.36 L205.7 130.11 L206.4 124.46 L207.1 129.97 L207.8 131.12 L208.5 131.19 L209.2 133.64 L209.9 134.64 L210.6 132.63 L211.3 135.18 L212 133.16 L212.7 135.79 L213.4 139.94 L214.1 139.4 L214.8 138.9 L215.5 142.24 L216.2 138.25 L216.9 139.28 L217.6 137.14 L218.3 141.74 L219 140.79 L219.7 139.51 L220.4 139.67 L221.1 144.4 L221.8 139.03 L222.5 144.52 L223.2 140.76 L223.9 144.8 L224.6 145.66 L225.3 148.43 L226 146.01 L226.7 140.73 L227.4 148.45 L228.1 143.58 L228.8 144.57 L229.5 149.43 L230.2 146.09 L230.9 145.95 L231.6 150.83 L232.3 152.02 L233 148.13 L233.7 150.62 L234.4 146.7 L235.1 151.46 L235.8 156.71 L236.5 153.87 L237.2 157.95 L237.9 152.66 L238.6 153.3 L239.3 157.12 L240 159.21 L240.7 154.3 L241.4 158.64 L242.1 154.39 L242.8 161.77 L243.5 159.91 L244.2 161.36 L244.9 163.65 L245.6 152.86 L246.3 156.06 L247 163.82 L247.7 159.62 L248.4 169.55 L249.1 159.21 L249.8 160.21 L250.5 165.47 L251.2 166.03 L251.9 164.42 L252.6 164.21 L253.3 167.65 L254 170.11 L254.7 168.32 L255.4 169.49 L256.1 165.58 L256.8 168.55 L257.5 168.5 L258.2 177.12 L258.9 171.92 L259.6 171.07 L260.3 174.69 L261 173.08 L261.7 171.07 L262.4 178.84 L263.1 174.14 L263.8 177.59 L264.5 181.51 L265.2 168.29 L265.9 174.69 L266.6 174.14 L267.3 173.08 L268 173.08 L268.7 182.22 L269.4 175.25 L270.1 182.94 L270.8 184.46 L271.5 178.21 L272.2 178.84 L272.9 180.14 L273.6 182.22 L274.3 185.24 L275 195.7 L275.7 175.82 L276.4 186.88 L277.1 184.46 L277.8 180.14 L278.5 182.94 L279.2 190.47 L279.9 186.05 L280.6 180.14 L281.3 187.74 L282 186.88 L282.7 188.62 L283.4 188.62 L284.1 183.69 L284.8 189.53 L285.5 196.88 L286.2 186.05 L286.9 193.5 L287.6 190.47 L288.3 192.45 L289 190.47 L289.7 189.53 L290.4 199.37 L291.1 189.53 L291.8 189.53 L292.5 191.45 L293.2 198.1 L293.9 191.45 L294.6 194.58 L295.3 202.11 L296 187.74 L296.7 202.11 L297.4 192.45 L298.1 189.53 L298.8 203.58 L299.5 195.7 L300.2 190.47 L300.9 196.88 L301.6 205.13 L302.3 194.58 L303 205.13" stroke="#2424e6" stroke-width="0.5" opacity="0.75"/>
<path d="M150.25 83.61 L151 84.2 L151.75 84.79 L152.5 85.37 L153.25 85.96 L154 86.55 L154.75 87.13 L155.5 87.72 L156.25 88.3 L157 88.89 L157.75 89.48 L158.5 90.06 L159.25 90.65 L160 91.24 L160.75 91.82 L161.5 92.41 L162.25 93 L163 93.58 L163.75 94.17 L164.5 94.76 L165.25 95.34 L166 95.93 L166.75 96.52 L167.5 97.1 L168.25 97.69 L169 98.28 L169.75 98.86 L170.5 99.45 L171.25 100.03 L172 100.62 L172.75 101.21 L173.5 101.79 L174.25 102.38 L175 102.97 L175.75 103.55 L176.5 104.14 L177.25 104.73 L178 105.31 L178.75 105.9 L179.5 106.49 L180.25 107.07 L181 107.66 L181.75 108.25 L182.5 108.83 L183.25 109.42 L184 110 L184.75 110.59 L185.5 111.18 L186.25 111.76 L187 112.35 L187.75 112.94 L188.5 113.52 L189.25 114.11 L190 114.7 L190.75 115.28 L191.5 115.87 L192.25 116.46 L193 117.04 L193.75 117.63 L194.5 118.22 L195.25 118.8 L196 119.39 L196.75 119.98 L197.5 120.56 L198.25 121.15 L199 121.73 L199.75 122.32 L200.5 122.91 L201.25 123.49 L202 124.08 L202.75 124.67 L203.5 125.25 L204.25 125.84 L205 126.43 L205.75 127.01 L206.5 127.6 L207.25 128.19 L208 128.77 L208.75 129.36 L209.5 129.95 L210.25 130.53 L211 131.12 L211.75 131.71 L212.5 132.29 L213.25 132.88 L214 133.47 L214.75 134.05 L215.5 134.64 L216.25 135.22 L217 135.81 L217.75 136.4 L218.5 136.98 L219.25 137.57 L220 138.16 L220.75 138.74 L221.5 139.33 L222.25 139.92 L223 140.5 L223.75 141.09 L224.5 141.68 L225.25 142.26 L226 142.85 L226.75 143.44 L227.5 144.02 L228.25 144.61 L229 145.2 L229.75 145.78 L230.5 146.37 L231.25 146.95 L232 147.54 L232.75 148.13 L233.5 148.71 L234.25 149.3 L235 149.89 L235.75 150.47 L236.5 151.06 L237.25 151.65 L238 152.23 L238.75 152.82 L239.5 153.41 L240.25 153.99 L241 154.58 L241.75 155.17 L242.5 155.75 L243.25 156.34 L244 156.93 L244.75 157.51 L245.5 158.1 L246.25 158.68 L247 159.27 L247.75 159.86 L248.5 160.44 L249.25 161.03 L250 161.62 L250.75 162.2 L251.5 162.79 L252.25 163.38 L253 163.96 L253.75 164.55 L254.5 165.14 L255.25 165.72 L256 166.31 L256.75 166.9 L257.5 167.48 L258.25 168.07 L259 168.66 L259.75 169.24 L260.5 169.83 L261.25 170.41 L262 171 L262.75 171.59 L263.5 172.17 L264.25 172.76 L265 173.35 L265.75 173.93 L266.5 174.52 L267.25 175.11 L268 175.69 L268.75 176.28 L269.5 176.87 L270.25 177.45 L271 178.04 L271.75 178.63 L272.5 179.21 L273.25 179.8 L274 180.39 L274.75 180.97 L275.5 181.56 L276.25 182.14 L277 182.73 L277.75 183.32 L278.5 183.9 L279.25 184.49 L280 185.08 L280.75 185.66 L281.5 186.25 L282.25 186.84 L283 187.42 L283.75 188.01 L284.5 188.6 L285.25 189.18 L286 189.77 L286.75 190.36 L287.5 190.94 L288.25 191.53 L289 192.12 L289.75 192.7 L290.5 193.29 L291.25 193.87 L292 194.46 L292.75 195.05 L293.5 195.63 L294.25 196.22 L295 196.81 L295.75 197.39 L296.5 197.98 L297.25 198.57 L298 199.15 L298.75 199.74 L299.5 200.33 L300.25 200.91 L301 201.5 L301.75 202.09 L302.5 202.67 L303.25 203.26" stroke="#ff1212" stroke-width="1.6"/>
<path d="M52.3 182 L52.6 150 L53 90 L53.6 50 L54.2 32 L55 19 L55.8 12.5 L56.5 10.3" stroke="#28c828" stroke-width="1.2"/>
</g>
<g stroke="#000" stroke-width="1.3" fill="none">
<rect x="51.3" y="5.8" width="251.3" height="202.7"/>
<path d="M51.3 208.5 v-4 M51.3 5.8 v4 M69.25 208.5 v-2.2 M69.25 5.8 v2.2 M87.2 208.5 v-4 M87.2 5.8 v4 M105.15 208.5 v-2.2 M105.15 5.8 v2.2 M123.1 208.5 v-4 M123.1 5.8 v4 M141.05 208.5 v-2.2 M141.05 5.8 v2.2 M159 208.5 v-4 M159 5.8 v4 M176.95 208.5 v-2.2 M176.95 5.8 v2.2 M194.9 208.5 v-4 M194.9 5.8 v4 M212.85 208.5 v-2.2 M212.85 5.8 v2.2 M230.8 208.5 v-4 M230.8 5.8 v4 M248.75 208.5 v-2.2 M248.75 5.8 v2.2 M266.7 208.5 v-4 M266.7 5.8 v4 M284.65 208.5 v-2.2 M284.65 5.8 v2.2 M302.6 208.5 v-4 M302.6 5.8 v4 M51.3 76.37 h4 M302.6 76.37 h-4 M51.3 56.48 h2.2 M302.6 56.48 h-2.2 M51.3 44.85 h2.2 M302.6 44.85 h-2.2 M51.3 36.59 h2.2 M302.6 36.59 h-2.2 M51.3 30.19 h2.2 M302.6 30.19 h-2.2 M51.3 24.96 h2.2 M302.6 24.96 h-2.2 M51.3 20.53 h2.2 M302.6 20.53 h-2.2 M51.3 16.7 h2.2 M302.6 16.7 h-2.2 M51.3 13.32 h2.2 M302.6 13.32 h-2.2 M51.3 142.44 h4 M302.6 142.44 h-4 M51.3 122.55 h2.2 M302.6 122.55 h-2.2 M51.3 110.92 h2.2 M302.6 110.92 h-2.2 M51.3 102.66 h2.2 M302.6 102.66 h-2.2 M51.3 96.26 h2.2 M302.6 96.26 h-2.2 M51.3 91.03 h2.2 M302.6 91.03 h-2.2 M51.3 86.6 h2.2 M302.6 86.6 h-2.2 M51.3 82.77 h2.2 M302.6 82.77 h-2.2 M51.3 79.39 h2.2 M302.6 79.39 h-2.2 M51.3 208.51 h4 M302.6 208.51 h-4 M51.3 188.62 h2.2 M302.6 188.62 h-2.2 M51.3 176.99 h2.2 M302.6 176.99 h-2.2 M51.3 168.73 h2.2 M302.6 168.73 h-2.2 M51.3 162.33 h2.2 M302.6 162.33 h-2.2 M51.3 157.1 h2.2 M302.6 157.1 h-2.2 M51.3 152.67 h2.2 M302.6 152.67 h-2.2 M51.3 148.84 h2.2 M302.6 148.84 h-2.2 M51.3 145.46 h2.2 M302.6 145.46 h-2.2 M51.3 10.3 h4 M302.6 10.3 h-4"/>
</g>
<g font-size="15" fill="#000" text-anchor="middle">
<text x="51.3" y="225.2">0</text>
<text x="87.2" y="225.2">2</text>
<text x="123.1" y="225.2">4</text>
<text x="159" y="225.2">6</text>
<text x="194.9" y="225.2">8</text>
<text x="230.8" y="225.2">10</text>
<text x="266.7" y="225.2">12</text>
<text x="302.6" y="225.2">14</text>
</g>
<text x="46.5" y="16.4" font-size="14.9" text-anchor="end">10<tspan font-size="10.2" dx="0.2" dy="-5.4">0</tspan></text>
<text x="47" y="82.07" font-size="14.9" text-anchor="end">10<tspan font-size="10.2" dx="1" dy="-6">-1</tspan></text>
<text x="47" y="148.14" font-size="14.9" text-anchor="end">10<tspan font-size="10.2" dx="1" dy="-6">-2</tspan></text>
<text x="47" y="214.21" font-size="14.9" text-anchor="end">10<tspan font-size="10.2" dx="1" dy="-6">-3</tspan></text>
<text x="180.1" y="241.4" font-size="17.3" text-anchor="middle">Time (ns)</text>
<text transform="translate(16.2,107.3) rotate(-90)" font-size="17.1" text-anchor="middle">Intensity (norm)</text>
<text x="286.3" y="25.3" font-size="17.3" font-weight="bold" text-anchor="middle">A</text>
<g font-size="9.0" font-weight="bold">
<text x="155.8" y="20.3" fill="#111">SyB-Cph2</text>
<text x="157.3" y="31.9" fill="#f01818">GP WT</text>
<text x="157.3" y="43.5" fill="#f07a30">GP D86H</text>
<text x="232.8" y="20.9" fill="#111">Cph1</text>
<text x="223.3" y="31.28" fill="#222">PGP WT</text>
<text x="223.3" y="41.66" fill="#30e0f8">PGP Y176H</text>
<text x="223.3" y="52.04" fill="#30d830">PGP Y263F</text>
<text x="223.3" y="62.42" fill="#2a8a2a">PGP Y263S</text>
<text x="223.3" y="72.8" fill="#2a2ae0">PGP Y176H/Y263S</text>
<text x="223.3" y="83.18" fill="#f020f0">PGP Y176H/Y263F</text>
<text x="223.3" y="93.56" fill="#8c8c8c">PG WT</text>
<text x="223.3" y="103.94" fill="#2a8aaa">PG Y176H</text>
<text x="223.3" y="114.32" fill="#882a99">PG Y176H/Y263S</text>
</g>
<g clip-path="url(#cb)">
<circle cx="443.9" cy="204.5" r="3.3" fill="none" stroke="#000" stroke-width="2"/>
<polygon points="449.2,201.9 445,208.8 453.4,208.8" fill="none" stroke="#999" stroke-width="2" stroke-linejoin="round"/>
<circle cx="475.2" cy="129" r="3.3" fill="none" stroke="#22ee22" stroke-width="2"/>
<circle cx="498.9" cy="92.6" r="3.3" fill="none" stroke="#177a17" stroke-width="2"/>
<circle cx="526.1" cy="64.9" r="3.3" fill="none" stroke="#20f0f8" stroke-width="2"/>
<circle cx="529.6" cy="55.2" r="3.85" fill="#ff20ff"/>
<circle cx="536.9" cy="46.2" r="3.85" fill="#1010f0"/>
<polygon points="535.8,46.7 531.6,53.6 540,53.6" fill="#8010f0" stroke="#8010f0" stroke-width="1.6" stroke-linejoin="round"/>
<polygon points="513.9,157.8 509.7,164.7 518.1,164.7" fill="none" stroke="#1a7a9a" stroke-width="2" stroke-linejoin="round"/>
<rect x="537" y="117.1" width="6" height="6" fill="none" stroke="#ff1010" stroke-width="2"/>
<rect x="580.5" y="19.7" width="6" height="6" fill="none" stroke="#ff8010" stroke-width="2"/>
<line x1="370.9" y1="206.3" x2="584.5" y2="15.8" stroke="#222" stroke-width="1.1" stroke-dasharray="5 4.6"/>
</g>
<g stroke="#000" stroke-width="1.3" fill="none">
<rect x="370.9" y="6.2" width="251.7" height="202.4"/>
<path d="M370.9 208.6 v-4 M370.9 6.2 v4 M391.88 208.6 v-2.2 M391.88 6.2 v2.2 M412.85 208.6 v-4 M412.85 6.2 v4 M433.82 208.6 v-2.2 M433.82 6.2 v2.2 M454.8 208.6 v-4 M454.8 6.2 v4 M475.77 208.6 v-2.2 M475.77 6.2 v2.2 M496.75 208.6 v-4 M496.75 6.2 v4 M517.73 208.6 v-2.2 M517.73 6.2 v2.2 M538.7 208.6 v-4 M538.7 6.2 v4 M559.67 208.6 v-2.2 M559.67 6.2 v2.2 M580.65 208.6 v-4 M580.65 6.2 v4 M601.62 208.6 v-2.2 M601.62 6.2 v2.2 M622.6 208.6 v-4 M622.6 6.2 v4 M370.9 206.3 h4 M622.6 206.3 h-4 M370.9 183.6 h2.2 M622.6 183.6 h-2.2 M370.9 160.9 h4 M622.6 160.9 h-4 M370.9 138.2 h2.2 M622.6 138.2 h-2.2 M370.9 115.5 h4 M622.6 115.5 h-4 M370.9 92.8 h2.2 M622.6 92.8 h-2.2 M370.9 70.1 h4 M622.6 70.1 h-4 M370.9 47.4 h2.2 M622.6 47.4 h-2.2 M370.9 24.7 h4 M622.6 24.7 h-4"/>
</g>
<g font-size="15" text-anchor="middle">
<text x="370.9" y="225.9">0.0</text>
<text x="412.85" y="225.9">0.5</text>
<text x="454.8" y="225.9">1.0</text>
<text x="496.75" y="225.9">1.5</text>
<text x="538.7" y="225.9">2.0</text>
<text x="580.65" y="225.9">2.5</text>
<text x="622.6" y="225.9">3.0</text>
</g>
<g font-size="14.2" text-anchor="end">
<text x="364.6" y="211.2">0.00</text>
<text x="364.6" y="165.8">0.05</text>
<text x="364.6" y="120.4">0.10</text>
<text x="364.6" y="75">0.15</text>
<text x="364.6" y="29.6">0.20</text>
</g>
<text x="498.7" y="245.6" font-size="17.2" text-anchor="middle">Mean lifetime (ns)</text>
<text transform="translate(326,100.6) rotate(-90)" font-size="17.1" text-anchor="middle">Fluorescence QY</text>
<text x="606.4" y="26.7" font-size="17.3" font-weight="bold" text-anchor="middle">B</text>
<g font-size="9.0" fill="#111">
<text x="393.7" y="18.6">PGP WT</text>
<text x="393.7" y="29.4">PGP Y176H</text>
<text x="393.7" y="40.3">PGP Y263F</text>
<text x="393.7" y="51.3">PGP Y263S</text>
<text x="393.7" y="63.5">PGP Y176H/Y263S</text>
<text x="393.7" y="74.9">PGP Y176H/Y263F</text>
<text x="393.7" y="96.4">PG WT</text>
<text x="393.7" y="107.6">PG Y176H</text>
<text x="393.7" y="118.6">PG Y176H/Y263S</text>
<text x="393.7" y="142.5">GP WT</text>
<text x="393.7" y="153.3">GP D86H</text>
</g>
<circle cx="380.8" cy="15.6" r="3.3" fill="none" stroke="#000" stroke-width="2"/>
<circle cx="380.8" cy="26.4" r="3.3" fill="none" stroke="#20f0f8" stroke-width="2"/>
<circle cx="380.8" cy="37.3" r="3.3" fill="none" stroke="#22ee22" stroke-width="2"/>
<circle cx="380.8" cy="48.3" r="3.3" fill="none" stroke="#177a17" stroke-width="2"/>
<circle cx="380.8" cy="60.5" r="3.85" fill="#1010f0"/>
<circle cx="380.8" cy="71.9" r="3.85" fill="#ff20ff"/>
<polygon points="380.8,89.8 376.6,96.7 385,96.7" fill="none" stroke="#999" stroke-width="2" stroke-linejoin="round"/>
<polygon points="380.8,101 376.6,107.9 385,107.9" fill="none" stroke="#1a7a9a" stroke-width="2" stroke-linejoin="round"/>
<polygon points="380.8,112 376.6,118.9 385,118.9" fill="#8010f0" stroke="#8010f0" stroke-width="1.6" stroke-linejoin="round"/>
<rect x="377.8" y="136.5" width="6" height="6" fill="none" stroke="#ff1010" stroke-width="2"/>
<rect x="377.8" y="147.3" width="6" height="6" fill="none" stroke="#ff8010" stroke-width="2"/>
</svg></body></html>
